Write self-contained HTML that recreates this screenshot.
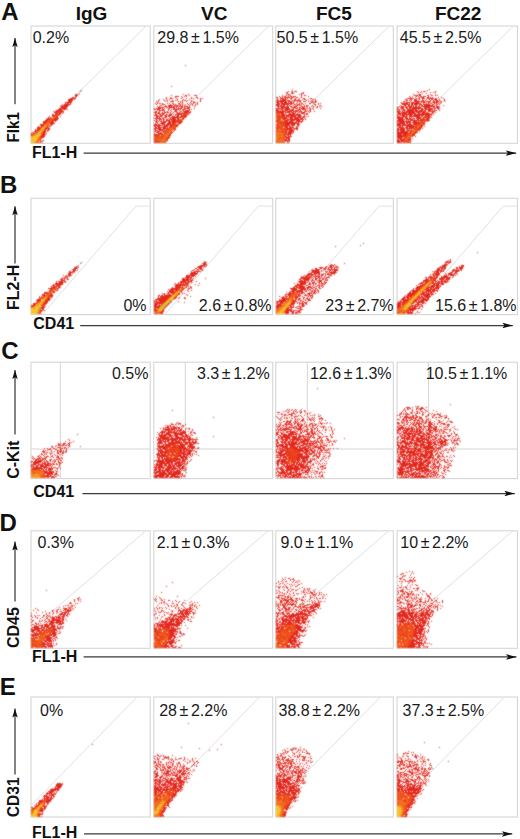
<!DOCTYPE html><html><head><meta charset="utf-8"><style>html,body{margin:0;padding:0;background:#fff;width:520px;height:839px;overflow:hidden}</style></head><body><svg xmlns="http://www.w3.org/2000/svg" width="520" height="839" viewBox="0 0 520 839" style="position:absolute;left:0;top:0">
<defs><marker id="ah" viewBox="0 0 10.5 5.6" refX="10.5" refY="2.8" markerWidth="10.5" markerHeight="5.6" markerUnits="userSpaceOnUse" orient="auto"><path d="M0,0 L10.5,2.8 L0,5.6 L2.2,2.8 z" fill="#111"/></marker><marker id="av" viewBox="0 0 9 5.4" refX="9" refY="2.7" markerWidth="9" markerHeight="5.4" markerUnits="userSpaceOnUse" orient="auto"><path d="M0,0 L9,2.7 L0,5.4 L1.8,2.7 z" fill="#111"/></marker></defs>
<text x="1.3" y="20.2" style="font-family:'Liberation Sans',sans-serif;font-weight:bold;font-size:24px" fill="#111">A</text>
<text x="0" y="192.5" style="font-family:'Liberation Sans',sans-serif;font-weight:bold;font-size:24px" fill="#111">B</text>
<text x="1.3" y="358.8" style="font-family:'Liberation Sans',sans-serif;font-weight:bold;font-size:24px" fill="#111">C</text>
<text x="-0.5" y="531.3" style="font-family:'Liberation Sans',sans-serif;font-weight:bold;font-size:24px" fill="#111">D</text>
<text x="-0.3" y="695.3" style="font-family:'Liberation Sans',sans-serif;font-weight:bold;font-size:24px" fill="#111">E</text>
<text x="91.5" y="20.3" text-anchor="middle" style="font-family:'Liberation Sans',sans-serif;font-weight:bold;font-size:19px" fill="#111">IgG</text>
<text x="214.2" y="20.3" text-anchor="middle" style="font-family:'Liberation Sans',sans-serif;font-weight:bold;font-size:19px" fill="#111">VC</text>
<text x="333.9" y="20.3" text-anchor="middle" style="font-family:'Liberation Sans',sans-serif;font-weight:bold;font-size:19px" fill="#111">FC5</text>
<text x="458.2" y="20.3" text-anchor="middle" style="font-family:'Liberation Sans',sans-serif;font-weight:bold;font-size:19px" fill="#111">FC22</text>
<rect x="31.0" y="26.0" width="119.2" height="117.3" fill="none" stroke="#d6d6d6" stroke-width="1.1"/>
<rect x="153.8" y="26.0" width="118.9" height="117.3" fill="none" stroke="#d6d6d6" stroke-width="1.1"/>
<rect x="275.8" y="26.0" width="117.5" height="117.3" fill="none" stroke="#d6d6d6" stroke-width="1.1"/>
<rect x="397.1" y="26.0" width="120.4" height="117.3" fill="none" stroke="#d6d6d6" stroke-width="1.1"/>
<rect x="31.0" y="198.3" width="119.2" height="116.3" fill="none" stroke="#d6d6d6" stroke-width="1.1"/>
<rect x="153.8" y="198.3" width="118.9" height="116.3" fill="none" stroke="#d6d6d6" stroke-width="1.1"/>
<rect x="275.8" y="198.3" width="117.5" height="116.3" fill="none" stroke="#d6d6d6" stroke-width="1.1"/>
<rect x="397.1" y="198.3" width="120.4" height="116.3" fill="none" stroke="#d6d6d6" stroke-width="1.1"/>
<rect x="31.0" y="362.2" width="119.2" height="116.4" fill="none" stroke="#d6d6d6" stroke-width="1.1"/>
<rect x="153.8" y="362.2" width="118.9" height="116.4" fill="none" stroke="#d6d6d6" stroke-width="1.1"/>
<rect x="275.8" y="362.2" width="117.5" height="116.4" fill="none" stroke="#d6d6d6" stroke-width="1.1"/>
<rect x="397.1" y="362.2" width="120.4" height="116.4" fill="none" stroke="#d6d6d6" stroke-width="1.1"/>
<rect x="31.0" y="530.8" width="119.2" height="117.5" fill="none" stroke="#d6d6d6" stroke-width="1.1"/>
<rect x="153.8" y="530.8" width="118.9" height="117.5" fill="none" stroke="#d6d6d6" stroke-width="1.1"/>
<rect x="275.8" y="530.8" width="117.5" height="117.5" fill="none" stroke="#d6d6d6" stroke-width="1.1"/>
<rect x="397.1" y="530.8" width="120.4" height="117.5" fill="none" stroke="#d6d6d6" stroke-width="1.1"/>
<rect x="31.0" y="697.0" width="119.2" height="120.0" fill="none" stroke="#d6d6d6" stroke-width="1.1"/>
<rect x="153.8" y="697.0" width="118.9" height="120.0" fill="none" stroke="#d6d6d6" stroke-width="1.1"/>
<rect x="275.8" y="697.0" width="117.5" height="120.0" fill="none" stroke="#d6d6d6" stroke-width="1.1"/>
<rect x="397.1" y="697.0" width="120.4" height="120.0" fill="none" stroke="#d6d6d6" stroke-width="1.1"/>
<polyline points="31.0,138.9 146.2,26.0" fill="none" stroke="#e0e0e0" stroke-width="1"/>
<polyline points="153.8,138.6 268.7,26.0" fill="none" stroke="#e0e0e0" stroke-width="1"/>
<polyline points="275.8,137.3 389.3,26.0" fill="none" stroke="#e0e0e0" stroke-width="1"/>
<polyline points="397.1,140.1 513.5,26.0" fill="none" stroke="#e0e0e0" stroke-width="1"/>
<polyline points="42.3,314.6 135.9,206.1 150.2,206.1" fill="none" stroke="#e0e0e0" stroke-width="1"/>
<polyline points="164.8,314.6 258.4,206.1 272.7,206.1" fill="none" stroke="#e0e0e0" stroke-width="1"/>
<polyline points="285.4,314.6 379.0,206.1 393.3,206.1" fill="none" stroke="#e0e0e0" stroke-width="1"/>
<polyline points="409.6,314.6 503.2,206.1 517.5,206.1" fill="none" stroke="#e0e0e0" stroke-width="1"/>
<polyline points="31.0,629.7 145.7,530.8" fill="none" stroke="#e0e0e0" stroke-width="1"/>
<polyline points="153.8,629.4 268.2,530.8" fill="none" stroke="#e0e0e0" stroke-width="1"/>
<polyline points="275.8,628.2 388.8,530.8" fill="none" stroke="#e0e0e0" stroke-width="1"/>
<polyline points="397.1,630.7 513.0,530.8" fill="none" stroke="#e0e0e0" stroke-width="1"/>
<polyline points="31.0,805.4 137.2,697.0" fill="none" stroke="#e0e0e0" stroke-width="1"/>
<polyline points="153.8,805.1 259.7,697.0" fill="none" stroke="#e0e0e0" stroke-width="1"/>
<polyline points="275.8,803.6 380.3,697.0" fill="none" stroke="#e0e0e0" stroke-width="1"/>
<polyline points="397.1,806.6 504.5,697.0" fill="none" stroke="#e0e0e0" stroke-width="1"/>
<line x1="60.3" y1="362.2" x2="60.3" y2="478.6" stroke="#d4d4d4" stroke-width="1"/>
<line x1="31.0" y1="449" x2="150.2" y2="449" stroke="#d4d4d4" stroke-width="1"/>
<line x1="185.3" y1="362.2" x2="185.3" y2="478.6" stroke="#d4d4d4" stroke-width="1"/>
<line x1="153.8" y1="449" x2="272.7" y2="449" stroke="#d4d4d4" stroke-width="1"/>
<line x1="307.3" y1="362.2" x2="307.3" y2="478.6" stroke="#d4d4d4" stroke-width="1"/>
<line x1="275.8" y1="449" x2="393.3" y2="449" stroke="#d4d4d4" stroke-width="1"/>
<line x1="428.6" y1="362.2" x2="428.6" y2="478.6" stroke="#d4d4d4" stroke-width="1"/>
<line x1="397.1" y1="449" x2="517.5" y2="449" stroke="#d4d4d4" stroke-width="1"/>
<defs>
<filter id="bl" color-interpolation-filters="sRGB" x="-5%" y="-5%" width="110%" height="110%"><feConvolveMatrix order="3" kernelMatrix="1 2 1 2 8 2 1 2 1" divisor="20" edgeMode="none" preserveAlpha="false"/></filter>
</defs>
<g filter="url(#bl)"><path d="M75 94.5h1m-8 5h1m-4 3h1m-4 2h1m-2 1h1m-2 1h1m6 3h1m-15 2h1m9 1h1m-15 4h1m10 0h1m-3 2h1m-2 1h1m-15 2h1m10 2h1m-15 1h1m8 4h1m-15 1h1m13 0h1m-4 4h1m-3 3h1m-2 4h1m-2 2h1" stroke="#d8261e" stroke-width="1" fill="none"/><path d="M76 94.5h1m-2 1h3m-3 1h2m-5 1h2m1 0h1m-6 1h6m-7 1h4m1 0h1m-7 1h5m-5 1h4m-6 1h6m-7 1h1m1 0h2m1 0h1m-7 1h7m-8 1h6m-8 1h7m-7 1h6m-8 1h8m-9 1h4m1 0h3m-10 1h7m-8 1h3m2 0h4m-10 1h3m3 0h2m-7 1h1m3 0h2m1 0h1m-11 1h2m1 0h1m3 0h2m-9 1h2m4 0h1m-7 1h1m4 0h1m-10 1h1m1 0h1m5 0h2m-11 1h3m5 0h3m-12 1h3m5 0h3m-12 1h3m6 0h3m-13 1h3m5 0h2m1 0h1m-13 1h3m4 0h4m-11 1h2m6 0h3m-13 1h3m6 0h3m-13 1h3m6 0h1m1 0h1m-14 1h1m2 0h1m7 0h2m-14 1h4m7 0h1m-12 1h3m6 0h3m-12 1h2m7 0h1m1 0h1m-14 1h3m6 0h2m1 0h2m-15 1h2m7 0h3m1 0h1m-16 1h2m1 0h1m8 0h2m-15 1h1m1 0h1m9 0h2m-14 1h2m9 0h4m-4 1h3m-4 1h3m-3 1h3m-3 1h1m-2 2h1m1 0h1m-2 1h1m-2 1h1" stroke="#e4281d" stroke-width="1" fill="none"/><path d="M58 111.5h2m-3 1h3m-4 1h2m-2 1h3m-5 1h4m-5 1h2m1 0h1m-2 1h1m-6 1h3m1 0h1m-6 1h2m1 0h2m-6 1h1m1 0h4m-7 1h1m1 0h1m1 0h1m-6 1h1m-2 1h1m2 0h1m1 0h1m-8 2h1m3 0h2m-7 1h1m4 0h1m-7 1h1m4 0h2m-8 1h1m4 0h1m-7 1h1m5 0h1m-8 1h1m-3 1h1m5 1h2m-10 1h1m7 0h1m-12 2h1m9 0h1m-2 1h1m-1 1h1m-1 1h1m-1 1h1m-1 2h1m-3 1h1" stroke="#ec461e" stroke-width="1" fill="none"/><path d="M58 113.5h1m-4 3h1m-3 1h2m-2 1h1m-3 1h1m-3 1h1m-2 1h1m1 0h1m-4 1h3m-4 1h2m1 0h1m-6 1h5m-5 1h1m-2 1h1m2 0h1m-2 1h1m-2 1h1m-5 1h1m3 0h1m-6 1h1m-3 1h2m-3 1h2m3 0h1m-7 1h2m4 0h1m-9 1h2m6 0h1m-10 1h1m-2 1h1m7 1h1m-2 1h2m-2 1h2m-3 1h3m-4 1h3m-4 1h3m1 0h1" stroke="#f2701f" stroke-width="1" fill="none"/><path d="M45 125.5h2m-2 1h1m-4 1h3m-4 1h1m0 1h2m-4 1h4m-5 1h1m2 0h1m-4 1h1m-3 1h1m2 0h1m-6 1h2m-4 1h2m5 0h1m-9 1h1m2 0h1m2 0h2m-2 1h1m-2 1h1m-7 1h1m5 0h1m-2 1h1m-4 2h2" stroke="#f59a25" stroke-width="1" fill="none"/><path d="M44 126.5h1m-3 2h2m-3 1h1m-2 2h2m-4 1h1m1 0h1m-3 1h2m-3 1h2m1 0h1m-6 1h5m-7 1h2m1 0h2m-7 1h7m-7 1h6m-5 1h5m-6 1h5m-5 1h5m-5 1h2" stroke="#f4c62d" stroke-width="1" fill="none"/><path d="M39 134.5h1" stroke="#a9c63c" stroke-width="1" fill="none"/><rect x="73" y="97" width="1" height="1" fill="#b04848"/><rect x="75" y="95" width="1" height="1" fill="#b04848"/><rect x="78" y="94" width="1" height="1" fill="#b04848"/><rect x="80" y="91" width="1" height="1" fill="#b04848"/><rect x="81" y="90" width="1" height="1" fill="#b04848"/><rect x="79" y="93" width="1" height="1" fill="#b04848"/></g>
<g filter="url(#bl)"><path d="M183 94.5h1m4 0h1m-18 1h1m13 0h2m2 0h1m4 0h3m-22 1h3m8 0h1m-21 1h1m24 0h1m4 0h1m-31 1h1m24 0h1m8 0h1m1 0h1m-44 1h1m3 0h1m2 0h1m10 0h1m11 0h1m10 0h1m-43 1h1m5 0h1m10 0h1m6 0h1m1 0h2m5 0h1m8 0h1m-45 1h1m1 0h1m6 0h1m5 0h3m4 0h1m3 0h1m3 0h1m13 0h1m-19 1h1m10 0h3m1 0h1m-41 1h1m9 0h1m1 0h1m2 0h1m6 0h1m2 0h1m4 0h1m3 0h1m5 0h1m-42 1h1m5 0h2m24 0h1m3 0h1m2 0h1m-35 1h1m27 0h1m2 0h1m2 0h1m-39 1h1m36 0h1m-41 2h1m9 0h1m29 0h1m-13 13h1m-3 2h1" stroke="#d8261e" stroke-width="1" fill="none"/><path d="M178 96.5h1m2 0h1m2 0h1m-15 1h1m4 0h1m6 0h1m14 0h1m-28 1h3m3 0h1m4 0h1m4 0h1m6 0h1m3 0h1m-29 1h1m13 0h1m-17 1h1m4 0h1m4 0h1m9 0h1m-21 1h1m2 0h1m9 0h1m10 0h1m1 0h1m-37 1h1m22 0h1m9 0h1m-36 1h1m3 0h2m1 0h1m10 0h1m4 0h1m14 0h1m-30 1h1m5 0h1m2 0h1m1 0h1m3 0h2m1 0h1m2 0h1m4 0h1m6 0h1m-38 1h1m4 0h1m2 0h5m1 0h5m1 0h1m1 0h1m1 0h1m-26 1h1m4 0h3m1 0h4m1 0h2m1 0h2m1 0h4m1 0h4m1 0h1m-32 1h6m2 0h2m1 0h6m1 0h1m1 0h1m2 0h2m1 0h1m2 0h3m-34 1h5m1 0h1m5 0h2m3 0h2m1 0h1m1 0h4m2 0h6m-36 1h2m1 0h3m2 0h2m4 0h1m2 0h1m1 0h6m1 0h1m1 0h3m4 0h1m1 0h1m-35 1h1m1 0h6m3 0h1m1 0h1m4 0h2m2 0h1m3 0h1m1 0h5m-35 1h2m2 0h1m4 0h1m2 0h1m3 0h1m2 0h3m3 0h2m1 0h6m1 0h1m-37 1h3m1 0h2m2 0h1m1 0h5m1 0h1m2 0h1m2 0h2m1 0h1m2 0h1m1 0h7m-36 1h1m1 0h3m1 0h4m5 0h1m1 0h1m4 0h8m4 0h1m-35 1h2m2 0h2m1 0h2m2 0h2m1 0h3m1 0h1m1 0h7m1 0h1m3 0h2m-35 1h4m2 0h3m1 0h3m1 0h4m3 0h1m1 0h2m2 0h3m1 0h2m-31 1h6m3 0h2m1 0h2m2 0h3m1 0h3m1 0h2m3 0h2m-31 1h2m1 0h1m2 0h1m1 0h3m3 0h11m2 0h3m-32 1h7m1 0h2m4 0h1m1 0h1m1 0h4m1 0h2m4 0h1m-28 1h1m2 0h3m1 0h2m1 0h2m1 0h7m1 0h2m3 0h2m-30 1h1m1 0h2m1 0h1m1 0h1m1 0h1m2 0h4m1 0h6m4 0h1m-27 1h2m1 0h1m1 0h2m1 0h4m1 0h3m1 0h4m5 0h1m-26 1h2m3 0h5m2 0h7m4 0h3m-27 1h1m1 0h1m2 0h5m2 0h4m1 0h3m4 0h1m-26 1h3m1 0h2m2 0h3m1 0h8m3 0h2m-25 1h9m1 0h5m1 0h2m4 0h2m-24 1h2m1 0h3m3 0h5m1 0h2m1 0h1m2 0h1m1 0h1m-23 1h2m1 0h8m1 0h1m1 0h1m-16 1h7m2 0h5m7 0h1m-22 1h2m2 0h7m1 0h1m8 0h1m-21 1h3m1 0h4m1 0h1m9 0h1m-21 1h2m1 0h3m2 0h2m9 0h1m-18 1h3m1 0h1m10 0h2m-19 1h1m3 0h3m10 0h1m-18 1h3m3 0h1m2 0h1m6 0h1m-17 1h1m14 0h2m-2 1h1m-9 1h1m6 0h2m-3 1h2m-2 2h1" stroke="#e4281d" stroke-width="1" fill="none"/><path d="M185 113.5h3m-4 1h1m1 0h1m-3 1h1m-3 1h1m1 0h1m-4 1h1m0 1h1m-4 1h2m-4 1h4m-5 1h5m-6 1h4m-1 1h1m-5 1h3m-5 1h1m1 0h2m-5 1h1m1 0h1m2 0h1m-7 1h2m1 0h1m1 0h1m-8 1h1m5 0h1m-8 1h3m1 0h1m1 0h2m-10 1h2m1 0h1m-5 1h1m1 0h1m1 0h1m2 0h1m-11 1h1m1 0h3m1 0h1m-7 1h2m1 0h2m4 0h1m-14 1h3m1 0h2m-8 1h5m1 0h2m2 0h1m2 0h1m-15 1h5m1 0h4m-10 1h1m2 0h3m2 0h1m4 0h1m-14 1h1m1 0h3m2 0h1m4 0h1m-13 1h1m1 0h1m3 0h1m3 0h1m1 0h2m-14 1h4m1 0h1m-5 1h3m1 0h2m5 0h1m-13 1h6m2 0h1m1 0h1" stroke="#ec461e" stroke-width="1" fill="none"/><path d="M185 114.5h1m-3 2h1m-2 1h1m-2 2h1m-7 4h1m-3 2h1m0 1h1m-3 1h1m1 0h1m-6 1h5m-4 1h1m1 0h1m-6 1h1m1 0h4m-8 1h1m1 0h1m1 0h2m-5 1h1m1 0h1m1 0h1m-5 1h4m-6 1h6m-7 1h2m2 0h1m-9 1h1m4 0h5m-14 1h2m3 0h1m2 0h4m-12 1h1m3 0h2m1 0h4m-11 1h1m1 0h3m1 0h3m1 0h1m-8 1h1m1 0h7m-13 1h1m3 0h1m2 0h5m-6 1h1m2 0h1m1 0h1" stroke="#f2701f" stroke-width="1" fill="none"/><path d="M169 132.5h1m-4 3h1m-6 7h1" stroke="#f59a25" stroke-width="1" fill="none"/><rect x="185" y="65" width="1" height="1" fill="#b04848"/><rect x="171" y="86" width="1" height="1" fill="#b04848"/></g>
<g filter="url(#bl)"><path d="M292 89.5h1m-5 2h1m2 0h2m2 0h2m-11 1h2m4 0h1m0 1h1m-8 1h1m1 0h1m1 1h1m10 0h1m2 0h2m-27 1h1m11 0h1m2 0h1m13 0h1m-33 1h2m2 0h1m18 1h1m10 0h1m-9 1h1m1 0h2m2 0h1m3 0h2m1 0h1m-17 1h1m6 0h1m8 0h1m-13 1h1m4 0h1m1 0h1m5 0h1m-3 1h2m-6 1h1m2 0h1m6 0h1m-7 1h2m-4 1h1m2 0h1m4 0h1m-25 1h1m20 0h1m1 0h1m1 0h1m-9 1h1m2 0h2m2 1h1m-11 2h1m3 1h1m-7 5h1m-4 3h1m-9 10h1m-7 7h1m-3 4h1m-1 1h1m-2 1h1" stroke="#d8261e" stroke-width="1" fill="none"/><path d="M294 91.5h1m8 1h1m-17 1h1m3 0h2m8 0h3m-15 1h1m9 0h1m1 0h1m-20 1h1m3 0h1m1 0h1m-7 1h1m1 0h2m2 0h1m1 0h1m2 0h1m1 0h1m5 0h1m-20 1h1m1 0h6m1 0h3m2 0h2m3 0h1m-25 1h1m2 0h4m1 0h1m1 0h1m2 0h2m3 0h1m7 0h2m6 0h1m-35 1h1m2 0h1m1 0h5m4 0h1m2 0h2m2 0h1m-23 1h3m1 0h6m1 0h3m2 0h1m1 0h5m1 0h1m10 0h1m-35 1h10m1 0h4m1 0h2m2 0h1m1 0h2m3 0h2m6 0h2m1 0h1m-40 1h3m1 0h3m1 0h3m1 0h1m1 0h2m1 0h1m3 0h1m2 0h1m10 0h2m-36 1h3m1 0h13m2 0h1m2 0h1m1 0h2m2 0h1m3 0h1m8 0h1m-43 1h4m1 0h8m1 0h2m2 0h2m1 0h3m1 0h1m1 0h1m14 0h1m-43 1h3m1 0h2m1 0h2m2 0h1m1 0h1m3 0h1m2 0h2m1 0h2m3 0h1m1 0h2m-31 1h8m1 0h3m1 0h2m2 0h2m5 0h2m1 0h1m1 0h2m3 0h1m1 0h1m-36 1h1m2 0h8m2 0h5m1 0h1m1 0h2m1 0h3m4 0h1m-34 1h8m1 0h5m3 0h1m1 0h3m1 0h1m1 0h4m1 0h2m1 0h2m1 0h1m-37 1h2m1 0h1m1 0h2m1 0h6m1 0h3m4 0h3m1 0h4m4 0h1m2 0h1m-38 1h3m1 0h1m1 0h2m1 0h3m1 0h5m1 0h4m1 0h1m4 0h1m1 0h1m1 0h1m-34 1h10m1 0h5m1 0h5m1 0h3m2 0h3m1 0h1m1 0h1m-35 1h1m3 0h4m1 0h5m1 0h3m1 0h1m2 0h2m1 0h4m4 0h1m-31 1h1m1 0h3m1 0h1m3 0h2m1 0h4m1 0h1m3 0h4m1 0h2m-27 1h4m1 0h1m1 0h7m1 0h5m3 0h1m1 0h2m-26 1h19m3 0h1m-22 1h2m1 0h3m1 0h6m2 0h4m1 0h2m1 0h1m-24 1h4m1 0h5m1 0h7m1 0h3m-21 1h4m2 0h3m1 0h5m1 0h3m2 0h1m-22 1h2m1 0h17m-27 1h1m7 0h4m1 0h5m1 0h4m2 0h1m-19 1h1m1 0h2m1 0h4m3 0h7m-26 1h1m8 0h11m1 0h2m1 0h1m-18 1h15m-14 1h5m1 0h4m2 0h3m-15 1h5m1 0h4m2 0h2m-13 1h2m1 0h2m1 0h1m3 0h1m1 0h1m-14 1h3m1 0h5m2 0h2m-21 1h1m8 0h6m1 0h5m-14 1h1m2 0h6m1 0h1m1 0h1m-10 1h1m1 0h5m-8 1h1m1 0h6m-8 1h6m1 0h1m-8 1h1m1 0h5m-7 1h5m-4 1h2m1 0h1m-5 1h1m1 0h3m-6 1h5m-4 1h4m-5 1h2m1 0h2m-6 1h5m-4 1h1m1 0h1m-4 1h1m2 0h1" stroke="#e4281d" stroke-width="1" fill="none"/><path d="M277 112.5h3m-4 1h2m2 0h1m-3 1h2m-3 1h5m-6 1h7m-6 1h6m-6 1h4m1 0h2m-6 1h3m1 0h2m-8 1h1m1 0h2m4 0h1m-9 1h3m1 0h1m1 0h2m1 0h1m-7 1h7m-9 1h7m-8 1h3m1 0h4m-7 1h2m3 0h3m-8 1h7m1 0h1m-10 1h5m1 0h1m-7 1h1m1 0h1m1 0h5m-3 1h1m2 0h2m-11 1h2m3 0h2m1 0h3m-10 1h1m1 0h1m1 0h3m1 0h1m-4 1h4m-1 1h1m-2 1h2m-7 1h1m3 0h3m-2 1h2m-6 1h1m-2 1h1m2 0h3m-1 1h1m-9 2h1m1 1h1m4 0h1" stroke="#ec461e" stroke-width="1" fill="none"/><path d="M278 113.5h1m-3 1h2m-2 1h1m-1 2h1m-1 1h1m4 0h1m-6 1h2m2 1h3m-4 1h1m1 0h1m-6 1h1m1 0h1m0 2h1m4 0h1m-9 1h1m2 0h3m-6 1h1m7 0h1m-4 1h1m2 0h1m-6 1h1m5 0h1m-10 1h6m1 0h1m-6 1h3m2 0h1m-8 1h1m1 0h1m1 0h1m3 0h1m-9 1h6m-6 1h9m-9 1h8m-8 1h2m2 0h3m-7 1h5m1 0h2m-7 1h3m1 0h4m-9 1h3m1 0h2m-6 1h8m-8 1h8m-7 1h7m-8 1h2m1 0h4" stroke="#f2701f" stroke-width="1" fill="none"/><path d="M278 135.5h1m2 1h1m-6 1h1" stroke="#f59a25" stroke-width="1" fill="none"/></g>
<g filter="url(#bl)"><path d="M429 89.5h1m-3 1h1m-11 1h1m3 0h1m1 0h1m11 0h1m-18 1h1m1 0h1m9 0h1m2 0h1m1 0h1m-10 1h1m-14 1h1m0 1h2m3 0h1m17 0h1m-29 1h1m2 0h1m8 0h1m16 1h1m-32 1h1m35 0h1m-39 1h2m37 0h1m-1 1h1m-42 1h1m40 0h1m-41 1h1m38 3h1m-47 2h1m41 1h1m-2 1h1m0 1h1m-5 2h1m-5 5h1m-4 3h2m-6 6h1m-3 2h1m-4 3h1m-5 5h1" stroke="#d8261e" stroke-width="1" fill="none"/><path d="M424 91.5h2m-4 2h1m-5 1h3m9 0h1m4 0h1m-20 1h2m2 0h1m6 0h2m2 0h2m2 0h1m-20 1h1m1 0h1m1 0h1m2 0h3m2 0h1m-19 1h1m4 0h1m3 0h1m1 0h3m3 0h2m1 0h1m1 0h1m8 0h1m-34 1h6m2 0h1m1 0h2m2 0h3m2 0h7m1 0h2m-27 1h2m2 0h3m2 0h1m2 0h1m3 0h1m2 0h1m1 0h2m1 0h3m2 0h1m-34 1h2m1 0h1m1 0h1m2 0h3m1 0h1m3 0h2m1 0h1m4 0h1m2 0h1m1 0h3m1 0h1m-36 1h1m1 0h1m3 0h1m3 0h11m1 0h5m2 0h2m1 0h3m1 0h2m-41 1h1m4 0h4m1 0h3m1 0h4m2 0h1m1 0h3m2 0h2m2 0h6m1 0h1m1 0h1m-41 1h7m1 0h1m1 0h10m2 0h1m2 0h1m1 0h1m1 0h2m2 0h1m1 0h1m1 0h1m1 0h1m-39 1h8m1 0h2m1 0h4m1 0h3m1 0h7m2 0h2m2 0h2m1 0h1m-40 1h1m3 0h2m2 0h2m1 0h3m1 0h2m2 0h1m1 0h2m1 0h9m1 0h1m1 0h1m-38 1h1m1 0h3m1 0h2m1 0h4m1 0h1m1 0h2m1 0h2m1 0h14m1 0h4m-42 1h1m1 0h4m1 0h3m1 0h12m3 0h6m3 0h2m1 0h3m-42 1h1m3 0h3m2 0h2m1 0h2m1 0h11m1 0h3m1 0h5m1 0h2m1 0h2m-42 1h3m1 0h1m1 0h2m2 0h10m1 0h1m2 0h3m1 0h8m1 0h1m-38 1h1m1 0h1m2 0h4m1 0h7m1 0h3m1 0h4m1 0h2m2 0h3m1 0h1m1 0h3m-40 1h4m1 0h1m1 0h1m1 0h20m2 0h7m-38 1h3m2 0h13m1 0h5m1 0h3m1 0h2m4 0h2m-36 1h9m1 0h8m2 0h2m1 0h9m1 0h2m-36 1h4m1 0h11m1 0h18m1 0h1m-37 1h1m2 0h5m1 0h2m1 0h3m1 0h11m1 0h1m1 0h3m1 0h1m-35 1h3m2 0h5m2 0h11m2 0h1m1 0h2m3 0h2m-34 1h7m1 0h3m1 0h1m1 0h1m4 0h6m1 0h1m1 0h1m2 0h2m-33 1h6m2 0h3m1 0h2m1 0h3m1 0h5m1 0h1m5 0h2m-32 1h7m1 0h7m1 0h1m2 0h2m1 0h3m3 0h3m-32 1h7m2 0h1m1 0h1m1 0h12m4 0h2m-31 1h1m1 0h12m2 0h4m1 0h1m8 0h1m-31 1h1m1 0h6m1 0h5m1 0h8m-23 1h8m1 0h2m1 0h2m2 0h6m5 0h1m-28 1h4m1 0h4m1 0h5m1 0h4m6 0h2m-28 1h17m1 0h1m5 0h2m-26 1h1m1 0h2m1 0h1m3 0h9m6 0h2m-25 1h6m1 0h3m1 0h4m3 0h1m2 0h3m-25 1h2m1 0h5m1 0h6m7 0h2m-24 1h8m1 0h2m1 0h1m1 0h1m6 0h3m-24 1h2m1 0h5m2 0h3m7 0h2m-22 1h2m1 0h9m1 0h1m5 0h1m-20 1h11m1 0h1m5 0h3m-21 1h11m7 0h1m-19 1h5m1 0h5m5 0h2m-18 1h9m7 0h2m-18 1h7m1 0h1m6 0h1m-16 1h6m1 0h1m-7 1h4m1 0h1m6 0h1m1 0h1m-16 1h2m1 0h4m5 0h2m-14 1h6m6 0h2m-14 1h3m1 0h2m5 0h1m1 0h1m-14 1h5m1 0h1m4 0h3" stroke="#e4281d" stroke-width="1" fill="none"/><path d="M401 112.5h1m24 3h1m-1 1h3m-5 1h1m1 0h2m-5 1h2m1 0h2m-5 1h2m-3 1h4m-28 1h1m21 0h3m1 0h2m-6 1h5m-6 1h2m2 0h1m-6 1h2m1 0h2m-7 1h2m1 0h2m-6 1h2m3 0h1m-8 1h1m1 0h1m-4 1h5m1 0h1m-5 1h1m1 0h2m-8 1h3m3 0h1m-6 1h1m3 0h1m-6 1h2m2 0h1m-7 1h3m2 0h2m-6 1h1m1 0h2m-7 1h1m1 0h3m1 0h1m-9 1h1m1 0h2m3 0h1m-6 1h1m3 0h1m-7 1h2m1 0h3m-6 1h1m3 0h1m-6 1h6m-6 1h1m1 0h1m1 0h1m-4 1h1m2 0h1" stroke="#ec461e" stroke-width="1" fill="none"/><path d="M425 119.5h1m-3 2h1m-3 2h2m-6 1h1m2 0h1m-3 1h1m-2 1h3m-6 1h1m2 0h2m-2 1h1m-5 1h1m1 0h1m-3 1h3m-4 1h3m-3 1h2m-3 1h2m-5 1h1m1 0h1m-4 1h1m3 0h1m-4 1h3m-6 1h1m1 0h3m-4 1h1m-2 1h3m-4 2h1m1 0h1m-2 1h2" stroke="#f2701f" stroke-width="1" fill="none"/></g>
<g filter="url(#bl)"><path d="M76 266.5h2m-4 1h1m2 3h1m-4 2h1m-12 3h1m7 0h1m-3 1h1m-9 2h1m5 1h2m-13 2h1m8 0h1m-10 1h1m8 0h1m-11 1h1m-3 1h1m8 0h1m-11 1h1m-2 1h1m8 1h1m-13 1h2m7 2h1m-14 2h1m-3 2h1m-4 2h1m12 0h1m-14 1h1m-3 2h1m-2 1h1m12 0h1m-17 3h1m11 3h1m-2 4h1" stroke="#d8261e" stroke-width="1" fill="none"/><path d="M75 267.5h2m1 0h1m-5 1h4m-6 1h4m-3 1h3m-7 1h2m1 0h3m-6 1h4m-5 1h3m1 0h1m-5 1h3m-5 1h1m1 0h3m-6 1h3m-6 1h1m1 0h2m1 0h1m-5 1h2m1 0h2m-8 1h3m1 0h1m-4 1h4m-7 1h5m1 0h1m-6 1h5m-8 1h7m-8 1h3m1 0h3m-9 1h2m1 0h1m2 0h2m-8 1h2m4 0h1m-9 1h4m3 0h2m-10 1h3m4 0h2m-9 1h1m6 0h1m-9 1h2m4 0h2m-8 1h1m3 0h2m-10 1h3m5 0h2m-11 1h2m-3 1h2m6 0h2m-11 1h4m4 0h3m-12 1h1m8 0h2m-11 1h2m6 0h1m1 0h1m-13 1h2m7 0h3m-13 1h3m6 0h3m-13 1h3m6 0h3m-12 1h1m8 0h2m-12 1h1m7 0h4m-14 1h3m8 0h2m-14 1h3m8 0h2m-15 1h3m9 0h2m-3 1h2m-2 1h3m-4 1h3m-2 1h2m-3 1h2m-2 1h1m-2 1h1" stroke="#e4281d" stroke-width="1" fill="none"/><path d="M58 284.5h1m-2 1h2m-4 1h4m-6 2h4m-6 1h1m1 0h1m1 0h1m-4 1h1m-3 1h1m-3 1h1m3 0h1m-7 1h2m1 0h1m1 0h1m-5 1h1m2 0h1m-3 1h2m-7 1h2m3 0h2m-7 1h1m3 0h2m-8 1h2m4 0h1m-2 1h1m-7 1h1m4 0h1m-8 1h2m5 0h1m-9 1h2m4 1h2m-2 1h1m-10 1h1m7 0h1m-12 1h2m-2 1h1m8 2h1m-1 1h1m-1 1h1m-2 2h2" stroke="#ec461e" stroke-width="1" fill="none"/><path d="M55 287.5h2m-5 2h1m1 0h1m-4 1h1m1 0h1m-2 1h1m-4 1h3m-4 1h1m1 0h1m-5 1h1m1 0h2m-4 1h2m-3 1h1m1 0h1m-4 1h1m1 1h1m-2 1h1m-2 2h1m-2 1h1m-7 1h1m-1 1h1m3 0h2m-8 1h1m5 0h1m-9 1h1m6 1h2m-2 1h1m-2 2h1m-1 1h1m-2 1h2m-2 1h1" stroke="#f2701f" stroke-width="1" fill="none"/><path d="M51 291.5h1m-6 5h1m-2 1h2m-4 1h2m-3 1h1m1 0h1m-4 1h1m2 0h1m-5 1h1m1 0h2m-5 1h4m-4 1h1m2 0h1m-5 1h3m-5 1h2m-4 1h2m5 0h1m-10 1h3m-4 1h1m1 0h2m4 0h1m-2 1h2m-2 1h1m-2 1h2m-3 2h2" stroke="#f59a25" stroke-width="1" fill="none"/><path d="M45 298.5h1m-3 1h1m-2 1h2m-3 1h1m-4 2h1m1 0h2m-4 2h3m-5 1h2m1 0h2m-6 1h3m1 0h1m-8 1h1m2 0h3m-7 1h7m-7 1h7m-7 1h6m-6 1h7m-7 1h5" stroke="#f4c62d" stroke-width="1" fill="none"/><path d="M38 306.5h1m-1 1h1m-1 1h1" stroke="#a9c63c" stroke-width="1" fill="none"/><rect x="73" y="269" width="1" height="1" fill="#b04848"/><rect x="75" y="267" width="1" height="1" fill="#b04848"/><rect x="78" y="265" width="1" height="1" fill="#b04848"/><rect x="80" y="263" width="1" height="1" fill="#b04848"/><rect x="81" y="262" width="1" height="1" fill="#b04848"/></g>
<g filter="url(#bl)"><path d="M204 261.5h1m-3 2h1m3 1h1m-1 1h1m-8 1h1m5 0h1m-9 1h1m5 0h1m-9 1h1m5 1h2m-11 1h2m8 0h1m-12 1h1m7 0h2m-14 4h1m7 1h1m-14 2h2m9 0h1m11 0h1m-14 1h1m-1 1h1m3 1h1m-19 1h1m12 0h1m-17 1h1m23 0h1m-26 1h1m20 0h1m2 1h1m-11 1h1m1 0h1m-5 1h1m3 0h2m-4 1h2m1 0h1m-24 1h1m19 0h1m-2 1h1m3 0h1m-4 1h1m-8 1h1m-20 1h1m19 0h1m1 0h1m-22 1h1m15 0h1m6 0h1m-29 1h2m1 0h1m25 0h1m-30 1h1m31 0h1m-33 1h1m17 0h1m2 0h1m4 0h1m-10 1h1m2 0h1m5 0h2m-8 3h1m5 1h1m-22 9h1m-2 2h1" stroke="#d8261e" stroke-width="1" fill="none"/><path d="M204 262.5h3m-4 1h3m-3 1h3m-6 1h5m-7 1h1m1 0h3m1 0h1m-7 1h4m-6 1h1m2 0h3m-8 1h1m2 0h2m1 0h1m-5 1h1m1 0h1m-5 1h5m-8 1h5m1 0h1m-8 1h8m-8 1h7m-11 1h1m1 0h7m-9 1h4m1 0h3m-9 1h7m-8 1h1m1 0h3m1 0h2m-10 1h7m1 0h1m-9 1h7m1 0h2m-12 1h6m1 0h2m1 0h2m-12 1h7m-9 1h1m1 0h2m1 0h1m1 0h1m-10 1h9m3 0h1m-14 1h4m1 0h2m1 0h1m3 0h1m-13 1h4m1 0h1m5 0h1m-15 1h1m2 0h7m3 0h1m-15 1h7m1 0h1m4 0h1m-15 1h8m5 0h1m-15 1h5m1 0h2m5 0h1m-16 1h1m1 0h6m6 0h1m-14 1h6m-10 1h1m2 0h2m3 0h1m6 0h1m-16 1h1m1 0h1m1 0h3m7 0h1m-17 1h1m1 0h8m5 0h1m-18 1h10m6 0h1m-17 1h9m6 0h1m-19 1h11m6 0h1m-20 1h12m6 0h1m-20 1h1m1 0h1m1 0h8m-12 1h4m1 0h6m6 0h1m-18 1h1m1 0h7m7 0h1m-17 1h9m6 0h1m-16 1h4m1 0h1m8 0h1m-15 1h3m1 0h2m7 0h1m-14 1h6m6 0h1m-13 1h5m6 0h1m-11 1h1m1 0h1m6 0h1m-11 1h2m7 0h1m-10 1h2m7 0h1m-2 1h1m-2 1h2m-2 1h1" stroke="#e4281d" stroke-width="1" fill="none"/><path d="M189 279.5h1m-1 2h1m-3 1h1m1 0h1m-4 1h3m-4 1h3m-9 1h1m2 0h1m1 0h1m1 0h1m-8 1h1m2 0h1m1 0h1m-3 1h1m-5 1h1m4 0h1m-6 1h1m3 0h1m-6 1h1m-3 1h1m4 0h1m-7 1h1m-4 1h1m1 0h1m4 0h1m-9 3h1m-2 1h1m-3 2h1m-3 2h1m-3 1h1m4 1h1m-8 1h1m-2 1h1m-7 3h1m1 1h1m-1 1h1m5 0h1m-9 1h2m-1 1h1m4 0h1m-7 1h1m1 0h2m1 0h2" stroke="#ec461e" stroke-width="1" fill="none"/><path d="M188 282.5h1m-4 3h1m-3 2h1m-3 1h2m-4 1h3m-4 1h1m1 0h2m-6 1h2m-3 1h1m3 0h1m-6 1h1m-3 1h2m3 0h1m-2 1h1m-6 1h1m3 0h1m-2 1h1m-7 1h1m4 0h1m-8 2h1m4 0h1m-2 1h1m-7 1h1m-2 1h1m-2 1h1m4 0h1m-7 1h1m4 0h1m-7 1h1m4 0h1m-7 1h1m4 0h1m-7 1h1m-2 1h1m-1 1h1m-2 1h2m1 0h3m-6 1h4m-5 1h1" stroke="#f2701f" stroke-width="1" fill="none"/><path d="M179 290.5h1m-4 2h1m1 0h1m-4 1h2m-3 1h1m1 0h1m-5 1h1m2 0h1m-6 2h1m2 0h1m-5 1h1m-2 1h1m3 0h1m-6 1h1m-2 1h1m-2 1h1m3 0h1m-6 1h1m-2 1h1m-2 1h1m-3 2h1m-2 1h1m3 0h1m-6 1h1m3 0h1m-5 1h1m2 0h1m-4 1h1m-1 2h1" stroke="#f59a25" stroke-width="1" fill="none"/><path d="M178 291.5h2m-3 1h1m-1 1h1m-3 1h1m-3 1h2m-3 1h3m-4 1h2m-3 1h3m-3 1h2m-4 1h1m-2 1h1m1 0h1m-4 1h2m-3 1h1m1 0h1m-4 1h1m-2 1h1m-3 1h1m2 0h1m-4 1h1m1 0h1m-4 1h1m-2 1h1m1 0h1m-3 1h2" stroke="#f4c62d" stroke-width="1" fill="none"/><path d="M169 299.5h1m-1 1h2m-3 1h1m-1 1h1m-3 1h1m-2 1h2m-3 1h2m-4 1h2m-2 1h1m-2 1h2m-3 1h1" stroke="#a9c63c" stroke-width="1" fill="none"/></g>
<g filter="url(#bl)"><path d="M331 264.5h1m2 0h1m-6 1h5m1 0h1m-10 1h1m9 0h2m-19 1h2m1 0h1m2 0h1m2 0h1m1 0h3m3 0h1m-22 1h2m6 0h3m2 0h1m-17 1h1m11 0h2m1 0h2m2 0h1m-21 1h2m-4 1h1m16 0h2m1 0h1m-4 1h1m2 0h1m5 0h2m-3 1h1m-13 1h2m4 0h1m2 0h1m2 0h1m-31 1h1m12 0h1m1 0h1m1 0h2m2 0h1m-25 1h1m13 0h2m2 0h1m4 0h1m-6 1h1m1 0h1m-6 1h2m4 0h2m1 0h2m-28 1h1m12 0h1m6 0h1m2 0h1m-11 1h2m5 0h2m6 0h1m-17 1h1m5 0h1m-6 1h1m6 0h1m6 0h1m-33 1h1m14 0h2m2 0h1m5 0h1m5 0h1m-16 1h1m4 0h1m3 0h1m4 0h1m-18 1h1m9 0h1m1 0h1m-12 1h2m2 0h1m10 0h1m-18 1h3m13 0h1m-33 1h1m21 0h1m-4 1h2m2 0h1m-10 1h1m1 0h1m5 0h1m1 0h1m-3 1h1m2 0h1m2 0h1m-33 1h1m14 0h3m9 0h1m4 0h1m-12 1h1m1 0h1m2 1h1m-13 1h1m4 0h3m2 0h1m-32 1h1m23 1h1m3 0h1m4 0h1m-15 1h1m1 0h1m5 0h1m4 0h1m-13 1h1m0 1h1m8 0h2m-35 1h1m23 0h1m1 0h2m-7 1h1m1 0h1m6 0h1m-10 1h1m2 0h3m3 1h1m-14 2h1m4 0h2m-4 1h1m-4 3h1m2 0h1m-4 1h1m6 1h1m-9 1h1" stroke="#d8261e" stroke-width="1" fill="none"/><path d="M330 266.5h2m1 0h1m-13 1h1m4 0h1m2 0h1m4 0h2m2 0h1m-19 1h2m9 0h1m2 0h1m2 0h1m-23 1h5m9 0h2m1 0h6m-25 1h6m2 0h1m1 0h1m5 0h2m1 0h1m1 0h4m-26 1h8m1 0h1m3 0h1m5 0h1m1 0h3m-25 1h9m10 0h5m-27 1h4m2 0h6m3 0h1m1 0h1m1 0h2m1 0h4m-27 1h9m2 0h2m1 0h1m3 0h1m1 0h1m1 0h1m-24 1h4m1 0h2m2 0h1m13 0h3m-29 1h1m1 0h3m1 0h3m1 0h2m2 0h2m2 0h1m6 0h1m-28 1h4m1 0h5m1 0h1m2 0h1m2 0h1m5 0h1m1 0h4m-30 1h10m1 0h1m1 0h1m1 0h1m3 0h2m-21 1h1m2 0h7m5 0h2m6 0h1m1 0h1m1 0h1m-28 1h3m1 0h5m2 0h1m4 0h1m1 0h1m2 0h1m3 0h2m-29 1h8m2 0h1m5 0h1m4 0h3m2 0h1m-26 1h9m1 0h1m3 0h2m3 0h1m2 0h1m2 0h2m-29 1h1m2 0h6m6 0h1m2 0h2m4 0h3m-27 1h9m2 0h2m3 0h1m7 0h1m1 0h1m-29 1h8m3 0h1m6 0h1m4 0h1m2 0h2m-29 1h3m2 0h6m5 0h1m4 0h2m2 0h1m1 0h1m-29 1h2m2 0h8m4 0h3m1 0h2m3 0h2m-29 1h6m1 0h8m1 0h2m2 0h1m3 0h2m2 0h2m-30 1h6m3 0h6m1 0h1m7 0h1m1 0h1m-26 1h5m1 0h5m5 0h1m1 0h1m4 0h1m1 0h2m-29 1h4m4 0h5m2 0h2m4 0h1m2 0h1m-26 1h2m1 0h2m3 0h1m1 0h1m9 0h1m1 0h1m2 0h1m1 0h1m-29 1h4m7 0h4m1 0h1m3 0h1m1 0h2m1 0h3m-31 1h6m7 0h2m5 0h1m2 0h2m-25 1h1m2 0h1m1 0h1m5 0h1m1 0h2m4 0h1m4 0h1m1 0h2m-30 1h1m1 0h3m1 0h1m6 0h4m2 0h1m5 0h1m1 0h1m1 0h1m-32 1h4m1 0h1m8 0h3m6 0h1m6 0h1m-30 1h4m9 0h2m2 0h1m3 0h1m3 0h1m1 0h1m-31 1h1m1 0h6m8 0h2m1 0h1m4 0h1m1 0h1m1 0h3m-31 1h7m8 0h2m2 0h1m2 0h1m3 0h1m2 0h1m-32 1h8m8 0h4m10 0h1m-31 1h2m1 0h3m9 0h3m7 0h1m1 0h2m-30 1h2m1 0h3m10 0h3m4 0h1m3 0h1m1 0h2m-30 1h4m10 0h3m5 0h1m2 0h2m-28 1h5m9 0h2m1 0h1m7 0h4m-29 1h3m11 0h2m5 0h1m2 0h1m1 0h2m-28 1h2m12 0h4m1 0h1m4 0h2m-15 1h2m2 0h1m5 0h4m-14 1h5m8 0h3m-17 1h6m2 0h2m2 0h3m-15 1h3m1 0h3m4 0h3m-14 1h3m3 0h2m1 0h3m1 0h1m-15 1h4m2 0h1m1 0h1m1 0h2m1 0h1" stroke="#e4281d" stroke-width="1" fill="none"/><path d="M305 277.5h1m-9 9h1m-2 1h1m0 3h1m-4 1h1m1 0h2m-4 1h3m1 0h1m-7 1h2m3 0h1m-7 1h2m1 0h1m2 0h1m-9 1h1m3 0h1m1 0h1m-6 1h1m1 0h1m2 0h1m-8 1h1m1 0h1m1 0h1m-7 1h2m5 0h1m-7 1h2m4 0h1m-2 1h2m-9 1h2m5 0h1m-10 1h1m1 0h1m-4 1h1m8 0h1m-11 1h1m-1 1h2m6 0h1m-11 1h2m-3 1h1m9 0h2m-14 1h2m8 1h1m-11 1h1m8 0h1m-1 1h1m-1 1h1" stroke="#ec461e" stroke-width="1" fill="none"/><path d="M294 293.5h3m-4 1h1m1 0h2m-6 1h2m1 0h1m-4 1h1m1 0h2m-6 1h1m1 0h1m2 0h1m-7 1h5m-4 1h2m1 0h1m-6 1h2m2 0h1m-5 1h2m2 0h1m-6 1h1m4 0h1m-9 1h3m4 0h1m-8 1h1m6 0h1m-8 1h2m3 0h1m-8 1h3m4 0h1m-10 1h3m5 0h1m-10 1h3m5 0h1m-11 1h4m-3 1h2m-3 1h2m6 0h1m-9 1h1m7 0h1m-2 1h1" stroke="#f2701f" stroke-width="1" fill="none"/><path d="M293 297.5h1m-3 2h1m-3 1h2m-1 1h1m-4 1h2m1 0h1m-5 1h2m-4 1h2m1 0h1m1 0h1m-5 1h1m-2 1h1m2 0h1m-6 1h2m1 0h2m-6 1h2m2 0h1m-6 1h3m2 0h1m-7 1h2m3 0h1m-7 1h2m3 0h1m-7 1h1m1 0h1m3 0h1m-8 1h1m1 0h1" stroke="#f59a25" stroke-width="1" fill="none"/><path d="M289 301.5h1m-1 1h1m-2 1h2m-4 1h1m1 0h1m-3 1h2m-3 1h2m-3 1h1m-2 1h2m-2 1h2m-4 1h3m-4 1h3m-5 1h1m1 0h3m-6 1h1m1 0h4" stroke="#f4c62d" stroke-width="1" fill="none"/><rect x="335" y="246" width="1" height="1" fill="#b04848"/><rect x="360" y="245" width="1" height="1" fill="#b04848"/><rect x="363" y="243" width="1" height="1" fill="#b04848"/><rect x="344" y="263" width="1" height="1" fill="#b04848"/></g>
<g filter="url(#bl)"><path d="M448 260.5h1m-3 1h2m-3 1h1m15 3h3m-24 1h1m18 0h1m2 0h2m-8 1h2m4 1h1m-26 1h1m6 0h1m8 0h2m-3 1h2m7 0h1m-30 1h1m1 0h1m8 0h1m1 2h1m11 1h1m-3 1h1m-15 1h1m11 0h1m-29 1h2m14 0h1m10 0h1m-4 2h1m-15 1h1m10 1h3m-30 2h1m23 1h1m-28 1h1m-4 3h1m24 1h1m-28 1h1m25 0h1m-28 1h1m26 0h1m-29 1h1m-2 1h1m26 0h1m-29 1h1m25 0h1m-30 2h1m-2 1h1m-2 1h1m25 1h1m-31 2h1m27 0h1m-3 1h1m0 1h1m-14 3h1m7 0h1m1 0h1m-11 1h1m6 0h1m2 0h1m-12 1h2m6 0h1m-9 1h1m9 0h1m-13 3h1m7 0h1m1 0h1m-12 1h1m3 0h1m2 0h1" stroke="#d8261e" stroke-width="1" fill="none"/><path d="M450 259.5h1m-1 1h1m-2 1h2m-5 1h5m-6 1h1m2 0h1m-5 1h4m-6 1h5m-5 1h4m15 0h1m-23 1h7m13 0h4m-26 1h3m1 0h2m1 0h2m10 0h2m1 0h3m-24 1h2m1 0h1m1 0h1m12 0h1m1 0h1m1 0h2m-26 1h6m1 0h1m10 0h6m-25 1h4m1 0h3m9 0h2m1 0h4m-25 1h1m1 0h3m1 0h1m9 0h3m2 0h2m-24 1h7m8 0h4m2 0h3m-27 1h1m1 0h2m1 0h1m1 0h3m6 0h1m1 0h7m-22 1h2m2 0h2m5 0h3m1 0h1m1 0h4m-25 1h3m5 0h1m5 0h5m-20 1h4m4 0h2m4 0h9m-25 1h1m1 0h1m1 0h1m4 0h2m2 0h6m1 0h4m-25 1h4m5 0h2m3 0h5m1 0h4m-26 1h6m4 0h2m2 0h1m3 0h2m1 0h2m1 0h1m-25 1h5m5 0h1m1 0h2m1 0h8m-25 1h3m1 0h1m7 0h1m1 0h1m1 0h3m1 0h2m1 0h3m-27 1h3m1 0h2m6 0h12m-26 1h1m1 0h1m1 0h2m9 0h2m1 0h3m2 0h2m-23 1h3m6 0h1m1 0h10m-24 1h5m6 0h1m1 0h5m1 0h3m1 0h1m-25 1h5m6 0h7m1 0h5m-25 1h5m7 0h2m1 0h2m1 0h6m-26 1h1m2 0h2m7 0h10m1 0h1m-25 1h6m8 0h5m1 0h5m-25 1h5m8 0h10m-25 1h1m1 0h4m7 0h4m1 0h1m1 0h2m1 0h1m-25 1h5m8 0h3m1 0h7m-25 1h6m6 0h10m1 0h2m-28 1h1m1 0h5m9 0h1m1 0h7m1 0h1m-26 1h5m8 0h1m1 0h2m1 0h7m-27 1h5m1 0h1m7 0h6m1 0h5m-27 1h2m2 0h3m7 0h1m1 0h2m1 0h4m1 0h2m-28 1h7m8 0h4m1 0h7m-28 1h1m1 0h6m7 0h2m1 0h1m1 0h8m-28 1h2m1 0h3m8 0h3m1 0h6m-26 1h5m1 0h1m8 0h2m1 0h8m-27 1h4m1 0h3m7 0h2m3 0h2m3 0h2m-27 1h4m1 0h1m12 0h7m-25 1h4m10 0h5m1 0h2m2 0h2m-26 1h4m10 0h1m2 0h4m1 0h1m-23 1h2m11 0h1m2 0h3m-7 1h2m2 0h6m-10 1h2m1 0h4m-7 1h5m-6 1h1m1 0h1m1 0h1m4 0h1m-11 1h2m1 0h3m-6 1h1m1 0h3" stroke="#e4281d" stroke-width="1" fill="none"/><path d="M442 269.5h1m-7 5h1m-2 1h2m-4 1h2m1 0h1m-5 1h4m-5 1h3m-4 1h2m1 0h1m-5 1h1m1 0h1m0 1h1m-7 1h2m4 0h1m-2 1h1m-8 1h1m5 0h1m-8 1h2m-3 1h1m-3 2h1m5 0h1m-9 1h2m-2 1h1m5 0h1m-8 1h1m5 0h1m-7 1h1m4 0h1m-9 1h2m-2 1h1m-3 1h2m5 0h1m-9 1h1m6 0h1m-8 1h1m5 0h1m-10 2h1m6 0h1m-2 1h1m-9 1h2m-5 1h1m1 0h2m-6 2h1m1 0h1m7 0h1m-10 1h1m-1 1h1m7 0h1m-12 1h2m8 0h1m-13 1h2m9 0h1m-12 2h1m1 0h1m1 0h1m4 0h3m-9 1h1m6 0h1m-11 1h2m5 0h1m-8 1h1m5 0h1" stroke="#ec461e" stroke-width="1" fill="none"/><path d="M434 278.5h1m-3 1h1m-3 1h1m1 0h1m-5 1h2m1 0h1m-1 1h1m-6 1h1m3 0h1m-6 1h1m-3 2h1m-3 1h2m3 0h1m-6 1h1m-2 1h1m3 0h1m-6 1h1m2 1h1m-7 1h1m-1 1h1m4 0h1m-8 2h1m-3 1h1m4 0h1m-6 1h1m-3 1h2m4 0h1m-8 1h2m-3 1h2m3 0h1m-6 1h1m4 0h1m-7 1h1m4 0h1m-8 1h2m4 0h1m-8 1h1m-2 1h2m-4 1h1m1 0h1m5 0h1m-9 1h1m1 0h1m-5 1h3m-5 1h3m1 0h2m4 0h2m-11 1h1m1 0h1m1 0h4m-9 1h3m1 0h6m-8 1h5m1 0h2m-9 1h3m1 0h1m1 0h2" stroke="#f2701f" stroke-width="1" fill="none"/><path d="M430 281.5h1m-3 1h3m-4 1h3m-4 1h4m-5 1h1m1 0h2m-5 1h4m-5 1h1m1 0h1m-4 1h4m-3 1h1m-4 1h4m-6 1h3m-1 1h2m-4 1h1m1 0h1m-6 1h3m1 0h1m-5 1h1m2 0h1m-6 1h2m-2 1h1m2 0h1m-4 1h3m-5 1h1m2 0h1m-4 1h1m-3 1h1m2 0h1m-5 1h1m1 0h2m-5 1h1m-3 1h2m3 0h1m-6 1h1m3 0h1m-6 1h2m2 0h1m-7 1h1m1 0h1m1 0h3m-7 1h2m2 0h2m-8 1h1m2 0h2m1 0h1m-6 4h1" stroke="#f59a25" stroke-width="1" fill="none"/><path d="M426 285.5h1m-3 2h1m-4 2h2m-2 2h1m-4 1h2m-3 1h1m1 0h1m-2 1h1m-3 1h2m-3 1h2m-3 1h2m-4 1h1m-1 1h2m-4 1h1m1 0h1m-3 1h2m-3 1h1m-2 1h3m-4 1h3m-4 1h3m-3 1h2m-3 1h1m-2 1h2m-1 1h1" stroke="#f4c62d" stroke-width="1" fill="none"/><rect x="477" y="252" width="1" height="1" fill="#b04848"/></g>
<g filter="url(#bl)"><path d="M68 439.5h1m0 1h1m-5 1h1m7 0h1m-5 1h1m-12 1h1m1 0h1m3 0h2m2 0h1m-10 1h1m3 0h1m5 0h1m-14 1h1m2 0h1m5 0h1m2 0h1m-18 1h2m2 0h1m-4 1h1m11 0h1m-21 1h1m2 0h1m6 0h1m7 0h1m1 0h1m-10 1h2m9 0h1m-24 1h1m3 0h1m9 0h1m2 0h1m2 0h1m-22 1h3m9 0h1m2 0h1m2 0h2m1 0h1m1 0h1m-22 1h1m7 0h1m5 0h1m1 0h1m1 0h1m2 0h1m-25 1h1m15 0h1m4 0h1m-21 1h1m3 0h1m12 0h1m1 0h1m-30 2h1m5 0h1m1 0h1m5 0h3m8 0h2m-26 1h1m5 0h1m5 0h1m10 0h1m1 0h1m-20 1h1m18 0h1m-5 1h1m1 0h2m1 0h1m-11 1h1m11 0h1m-12 1h1m1 0h1m1 0h2m2 0h1m-5 1h1m4 0h1m2 0h1m-10 1h1m5 0h1m-7 1h1m3 0h1m1 1h1m-1 1h1m0 2h1m-6 2h1m0 1h2m-2 1h1m-2 1h1m1 1h1m0 1h1m-4 1h1m-2 1h1" stroke="#d8261e" stroke-width="1" fill="none"/><path d="M71 442.5h1m-9 1h1m5 0h1m-12 1h1m3 0h1m1 0h1m2 0h1m-10 1h1m1 0h2m1 0h1m2 0h1m2 0h1m-8 1h1m6 0h1m-13 1h4m4 0h1m2 0h1m-19 1h1m2 0h1m6 0h2m4 0h1m-19 1h3m9 0h1m-16 1h1m5 0h1m6 0h1m2 0h1m4 0h1m-16 1h1m7 0h1m6 0h1m-24 1h1m2 0h2m1 0h1m7 0h1m5 0h1m-19 1h1m4 0h2m6 0h1m4 0h1m-23 1h1m2 0h1m5 0h1m3 0h1m-16 1h1m3 0h1m8 0h1m2 0h1m1 0h1m4 0h1m-26 1h1m6 0h1m6 0h2m-12 1h1m4 0h1m3 0h1m2 0h1m3 0h1m3 0h1m-30 1h1m1 0h1m2 0h2m1 0h1m1 0h4m13 0h1m1 0h2m-30 1h1m1 0h4m1 0h1m1 0h2m1 0h1m4 0h2m-17 1h2m1 0h5m1 0h1m1 0h1m3 0h1m2 0h1m1 0h1m2 0h1m1 0h1m-30 1h2m1 0h8m2 0h1m1 0h2m-17 1h1m1 0h8m1 0h1m1 0h2m1 0h2m9 0h1m2 0h1m-29 1h6m3 0h4m1 0h4m1 0h1m3 0h1m3 0h1m-30 1h5m2 0h5m1 0h5m1 0h2m2 0h1m1 0h1m2 0h1m-29 1h1m1 0h1m1 0h4m1 0h4m1 0h6m1 0h1m-22 1h3m2 0h2m2 0h7m1 0h1m2 0h1m-21 1h1m1 0h9m1 0h5m1 0h1m1 0h1m1 0h3m2 0h1m-27 1h11m1 0h1m1 0h1m1 0h5m3 0h2m-27 1h2m2 0h1m5 0h3m1 0h2m1 0h5m4 0h1m-15 1h2m1 0h1m1 0h3m-7 1h4m1 0h5m-9 1h9m-8 1h7m3 0h1m-10 1h6m1 0h3m-12 1h4m1 0h1m3 0h1m-9 1h8m2 0h1m-12 1h1m1 0h2m2 0h3" stroke="#e4281d" stroke-width="1" fill="none"/><path d="M33 469.5h2m1 0h4m-9 1h1m3 0h1m3 0h3m0 1h2m-11 1h1m10 0h1m-11 1h1m9 0h2m-3 1h1m-2 1h2m-2 1h4m-5 1h1" stroke="#ec461e" stroke-width="1" fill="none"/><path d="M32 470.5h3m1 0h3m-8 1h11m-11 1h2m1 0h8m1 0h1m-13 1h3m1 0h9m-13 1h1m2 0h1m3 0h1m1 0h3m1 0h1m-13 1h1m6 0h3m2 0h1m-9 1h1m3 0h2m-2 1h1m1 0h3" stroke="#f2701f" stroke-width="1" fill="none"/><path d="M42 472.5h1m-11 2h2m2 0h2m1 0h1m-9 1h1m1 0h6m-8 1h5m1 0h3m-9 1h9" stroke="#f59a25" stroke-width="1" fill="none"/><path d="M35 474.5h1" stroke="#f4c62d" stroke-width="1" fill="none"/><rect x="77" y="434" width="1" height="1" fill="#b04848"/><rect x="80" y="446" width="1" height="1" fill="#b04848"/></g>
<g filter="url(#bl)"><path d="M177 422.5h1m-7 1h1m4 0h1m1 0h3m-6 1h1m2 0h1m1 0h1m4 0h1m-21 1h1m10 0h1m5 0h1m-20 2h1m-4 1h1m25 0h1m2 0h1m-1 1h1m2 0h1m-1 1h1m-2 1h1m-35 1h1m32 0h1m2 0h2m-5 1h1m3 0h2m-38 1h1m33 1h1m-37 2h1m39 0h1m-40 2h1m35 0h1m1 0h1m1 0h1m-4 3h2m-3 1h1m1 0h1m1 0h1m-4 3h1m-2 1h2m0 1h1m1 0h2m-5 2h1m-2 1h1m1 0h1m-4 2h1m3 1h1m-5 1h1m5 0h1m-8 1h1m-1 3h1m-37 1h1m34 0h1m-37 1h1m31 2h1m-3 1h1m1 0h1m-3 2h1m-2 1h1m-2 1h4m0 1h1m-2 1h1m0 2h1m-6 2h1m2 1h1m-4 1h1m2 0h1" stroke="#d8261e" stroke-width="1" fill="none"/><path d="M171 424.5h3m-7 1h1m1 0h2m12 0h1m-17 1h2m1 0h1m1 0h3m6 0h1m1 0h1m-19 1h4m1 0h2m1 0h7m2 0h1m-20 1h1m1 0h1m1 0h3m1 0h6m1 0h2m1 0h1m6 0h1m-26 1h12m1 0h1m1 0h1m1 0h2m3 0h1m-24 1h1m2 0h5m1 0h2m1 0h2m1 0h5m1 0h1m-23 1h5m2 0h4m1 0h2m1 0h2m1 0h2m1 0h4m2 0h1m-29 1h5m1 0h11m1 0h1m1 0h6m5 0h1m-33 1h1m1 0h2m1 0h1m1 0h4m1 0h1m1 0h13m-27 1h1m1 0h2m1 0h7m3 0h9m2 0h2m1 0h1m2 0h1m-33 1h8m1 0h5m1 0h4m2 0h4m1 0h3m2 0h1m-32 1h7m1 0h1m1 0h3m1 0h1m1 0h4m3 0h8m-32 1h1m1 0h10m1 0h2m2 0h8m1 0h1m1 0h2m1 0h2m-33 1h11m1 0h5m1 0h7m1 0h2m1 0h4m1 0h1m-35 1h3m1 0h16m1 0h14m1 0h1m1 0h1m-40 1h1m1 0h5m1 0h1m1 0h3m1 0h6m1 0h3m1 0h4m2 0h3m1 0h1m2 0h1m-38 1h4m1 0h6m2 0h3m1 0h5m1 0h1m1 0h2m1 0h1m1 0h2m2 0h2m1 0h2m-39 1h5m1 0h2m2 0h14m1 0h11m2 0h1m-40 1h6m2 0h1m2 0h9m1 0h5m2 0h3m1 0h3m2 0h1m3 0h1m-42 1h1m1 0h1m3 0h7m2 0h2m1 0h1m1 0h1m2 0h8m1 0h5m-36 1h2m1 0h3m1 0h6m7 0h7m3 0h5m-36 1h10m2 0h2m2 0h2m3 0h7m2 0h7m-36 1h8m1 0h1m3 0h2m1 0h2m3 0h7m1 0h1m1 0h4m5 0h1m-42 1h1m1 0h2m1 0h4m7 0h1m5 0h8m1 0h2m1 0h3m-37 1h2m1 0h2m1 0h3m3 0h1m10 0h2m1 0h6m1 0h1m1 0h1m-35 1h5m2 0h1m5 0h1m2 0h1m4 0h6m1 0h7m-35 1h10m6 0h1m5 0h2m1 0h4m1 0h4m4 0h1m-39 1h1m1 0h7m4 0h1m2 0h1m5 0h5m1 0h5m5 0h1m-40 1h6m1 0h2m12 0h8m1 0h4m3 0h1m-39 1h4m1 0h5m7 0h1m5 0h2m1 0h9m1 0h1m-36 1h10m6 0h2m3 0h4m1 0h2m1 0h2m2 0h1m-34 1h1m1 0h8m9 0h11m1 0h1m-32 1h3m1 0h2m1 0h1m1 0h1m10 0h1m2 0h8m1 0h1m-32 1h2m1 0h2m1 0h4m3 0h2m1 0h6m1 0h3m1 0h2m-29 1h2m2 0h8m2 0h1m2 0h6m1 0h6m-32 1h8m1 0h6m2 0h5m1 0h2m1 0h3m-28 1h19m1 0h3m1 0h5m1 0h1m1 0h1m-33 1h8m1 0h7m2 0h8m1 0h1m2 0h1m-32 1h2m1 0h11m1 0h2m1 0h7m1 0h3m2 0h1m-34 1h1m1 0h7m1 0h3m1 0h5m1 0h3m1 0h5m-28 1h8m1 0h3m1 0h3m1 0h3m1 0h6m1 0h1m1 0h1m-32 1h1m1 0h1m1 0h5m1 0h1m1 0h9m1 0h5m1 0h2m-30 1h11m2 0h5m1 0h3m2 0h2m1 0h2m3 0h1m-32 1h2m1 0h3m1 0h2m1 0h13m1 0h3m-28 1h3m1 0h3m1 0h1m2 0h5m1 0h5m1 0h1m1 0h2m1 0h1m-29 1h3m1 0h14m1 0h1m2 0h4m1 0h1m1 0h2m-31 1h1m1 0h5m1 0h3m1 0h3m1 0h11m-27 1h12m1 0h5m1 0h8m-27 1h3m2 0h8m1 0h13m1 0h1m-28 1h1m1 0h23m2 0h1m-29 1h11m1 0h3m2 0h5m1 0h1m2 0h1m1 0h1m-29 1h4m1 0h5m1 0h4m1 0h10m3 0h1m-30 1h4m1 0h9m1 0h4m1 0h6m1 0h1" stroke="#e4281d" stroke-width="1" fill="none"/><path d="M175 438.5h1m1 5h1m-8 1h2m2 0h1m-4 1h7m-11 1h2m3 0h1m2 0h3m-12 1h1m1 0h3m2 0h1m2 0h3m-13 1h2m1 0h4m1 0h5m-13 1h3m1 0h10m-14 1h5m1 0h2m1 0h4m-11 1h6m1 0h1m1 0h3m-13 1h4m1 0h2m1 0h5m-14 1h4m1 0h3m1 0h3m-11 1h3m1 0h2m1 0h5m-12 1h6m2 0h3m-11 1h2m2 0h2m1 0h2m-9 1h5m1 0h3m-8 1h3m2 0h1m-4 1h2m1 0h2m-4 1h2m-15 16h1" stroke="#ec461e" stroke-width="1" fill="none"/><path d="M176 451.5h1m-7 3h1m-1 2h1m5 1h1" stroke="#f2701f" stroke-width="1" fill="none"/><rect x="172" y="410" width="1" height="1" fill="#b04848"/><rect x="213" y="417" width="1" height="1" fill="#b04848"/><rect x="213" y="436" width="1" height="1" fill="#b04848"/></g>
<g filter="url(#bl)"><path d="M287 409.5h1m1 0h1m2 0h1m2 0h1m5 0h1m-11 1h1m8 0h1m3 0h1m-20 1h1m3 0h1m14 0h1m-28 1h3m7 0h2m4 0h1m3 0h1m3 0h1m8 0h1m-30 1h1m10 0h1m7 0h1m6 0h1m-27 1h1m2 0h2m2 0h3m4 0h1m22 0h1m-35 1h1m7 0h1m5 0h1m5 0h1m7 0h1m7 0h1m-45 1h1m5 0h1m8 0h1m3 0h1m1 0h1m20 0h1m-42 1h1m11 0h1m22 0h1m1 0h1m6 0h1m-44 1h1m1 0h1m14 0h1m13 0h1m3 0h1m5 0h4m-44 1h1m15 0h1m6 0h1m4 0h1m1 0h2m1 0h1m9 0h1m-33 1h1m6 0h1m3 0h1m8 0h1m2 0h1m11 0h1m-42 1h1m17 0h1m16 0h1m-39 1h1m38 0h1m6 0h1m-18 1h3m1 0h1m11 0h1m3 0h1m-55 1h1m29 0h1m3 0h1m4 0h1m5 0h1m-13 1h1m2 0h2m1 0h1m-40 1h2m16 0h1m13 0h1m14 0h1m-12 1h1m8 0h1m1 0h1m4 0h1m2 0h1m-21 1h1m2 0h2m1 0h1m5 0h1m7 0h1m-48 1h1m27 0h1m1 0h1m10 0h2m7 0h1m-10 1h1m-12 1h1m1 0h1m1 0h1m13 0h1m-13 1h1m11 0h1m-11 2h1m7 0h1m1 0h1m-8 2h3m3 0h1m-1 1h2m-7 1h1m0 1h2m-1 1h1m1 0h1m5 0h1m-8 1h1m1 0h1m1 0h2m0 1h1m-12 1h1m7 0h1m-6 1h1m-2 1h1m-1 1h1m-3 2h1m5 0h1m2 0h1m-9 2h3m-2 2h2m1 0h1m-1 1h1m-7 1h1m6 0h1m-8 2h2m3 0h1m-7 1h1m5 1h1m-8 1h1m-2 1h1m-1 1h1m-6 1h1m0 1h1m5 0h1m3 0h1m-7 1h1m1 1h1m2 0h1m-9 1h1m2 0h3m-1 1h1m2 0h1m-9 1h2m4 0h3m-8 1h1m3 0h1m-14 1h1m4 0h1m0 1h2m-6 1h1m1 0h1m5 0h1m4 0h1m-11 1h1m2 0h1m1 0h1m2 1h1m-1 1h1m-14 1h1m5 0h1m3 0h1m2 0h1m-12 1h1m1 0h1m2 0h1m6 0h1" stroke="#d8261e" stroke-width="1" fill="none"/><path d="M286 410.5h1m1 0h1m5 0h1m1 0h1m-14 1h1m9 0h1m1 0h1m3 0h1m1 0h1m3 0h1m-10 1h1m3 0h1m-10 1h1m1 0h2m10 0h1m3 0h1m-32 1h1m3 0h1m8 0h1m15 0h1m6 0h1m-30 1h1m1 0h1m3 0h1m8 0h1m9 0h1m3 0h1m-21 1h1m1 0h1m4 0h1m5 0h1m11 0h1m-39 1h1m2 0h1m1 0h1m7 0h1m7 0h1m5 0h1m-25 1h1m1 0h2m3 0h2m5 0h1m4 0h1m7 0h1m-31 1h1m15 0h1m1 0h1m3 0h1m10 0h1m4 0h1m-40 1h1m6 0h1m3 0h1m3 0h1m6 0h2m7 0h1m9 0h1m-39 1h1m2 0h5m3 0h2m1 0h1m2 0h1m3 0h1m9 0h1m-36 1h1m6 0h2m1 0h2m2 0h1m1 0h2m1 0h1m6 0h1m-26 1h1m4 0h2m1 0h2m1 0h1m2 0h2m1 0h2m1 0h1m3 0h1m13 0h1m1 0h3m1 0h1m-47 1h1m1 0h1m3 0h8m2 0h1m2 0h3m1 0h2m1 0h1m4 0h1m2 0h1m3 0h1m-38 1h2m1 0h2m2 0h1m4 0h2m4 0h2m1 0h3m3 0h1m7 0h1m3 0h1m-41 1h2m3 0h1m1 0h2m2 0h1m1 0h1m3 0h2m1 0h4m2 0h3m3 0h1m1 0h1m4 0h1m2 0h1m1 0h1m1 0h1m5 0h1m-53 1h1m1 0h1m1 0h1m3 0h1m1 0h7m1 0h1m2 0h2m2 0h1m2 0h1m6 0h1m2 0h1m8 0h1m-49 1h1m2 0h2m1 0h6m4 0h1m1 0h8m4 0h1m2 0h1m-35 1h1m1 0h3m1 0h2m1 0h7m2 0h1m2 0h5m2 0h1m1 0h3m2 0h1m5 0h1m13 0h1m-56 1h1m1 0h1m1 0h3m1 0h2m4 0h1m4 0h1m2 0h1m1 0h1m1 0h1m1 0h1m1 0h1m4 0h2m4 0h1m1 0h1m2 0h1m6 0h1m2 0h1m-55 1h1m4 0h1m2 0h9m1 0h2m2 0h1m1 0h1m1 0h4m2 0h3m-37 1h3m1 0h2m1 0h1m2 0h2m2 0h6m4 0h2m1 0h1m3 0h1m1 0h1m1 0h2m1 0h1m4 0h1m5 0h1m-50 1h2m3 0h2m1 0h1m3 0h6m1 0h3m2 0h2m5 0h3m1 0h5m1 0h1m3 0h1m11 0h1m-58 1h3m2 0h6m1 0h9m1 0h2m5 0h5m2 0h2m1 0h1m2 0h1m-43 1h1m2 0h2m2 0h9m4 0h1m2 0h2m1 0h2m4 0h1m1 0h2m1 0h1m3 0h1m12 0h1m-53 1h1m1 0h10m1 0h6m1 0h9m1 0h1m1 0h2m1 0h1m4 0h3m2 0h1m-46 1h2m1 0h10m1 0h5m1 0h3m2 0h1m1 0h1m1 0h4m1 0h3m4 0h2m1 0h1m-45 1h1m1 0h3m2 0h5m2 0h8m1 0h1m1 0h3m1 0h1m1 0h1m4 0h1m2 0h3m1 0h1m5 0h1m-52 1h2m1 0h1m1 0h7m1 0h14m1 0h6m7 0h1m3 0h1m-46 1h2m4 0h2m1 0h3m2 0h1m1 0h3m1 0h3m1 0h1m1 0h7m1 0h1m3 0h2m1 0h1m2 0h3m2 0h1m1 0h1m6 0h1m-59 1h2m2 0h3m1 0h3m1 0h6m1 0h2m1 0h1m1 0h9m1 0h5m1 0h3m1 0h1m1 0h1m-46 1h2m2 0h5m1 0h3m1 0h7m1 0h6m2 0h1m1 0h1m1 0h1m1 0h1m1 0h2m1 0h2m1 0h2m3 0h1m1 0h2m-54 1h3m3 0h1m1 0h3m1 0h9m1 0h2m1 0h1m1 0h14m3 0h1m1 0h1m-47 1h1m2 0h5m1 0h15m2 0h6m1 0h2m1 0h2m3 0h1m2 0h1m2 0h1m8 0h1m-57 1h8m1 0h3m1 0h6m2 0h1m2 0h4m2 0h1m1 0h5m1 0h1m1 0h2m2 0h2m1 0h3m3 0h1m2 0h1m-57 1h3m1 0h8m2 0h6m1 0h4m1 0h1m1 0h5m1 0h1m2 0h4m1 0h1m1 0h3m-46 1h1m1 0h1m2 0h6m1 0h2m1 0h6m1 0h2m1 0h4m2 0h3m1 0h1m1 0h7m1 0h3m-48 1h1m1 0h4m1 0h6m2 0h1m1 0h4m1 0h10m1 0h1m1 0h2m4 0h3m2 0h1m4 0h1m-53 1h1m1 0h1m1 0h1m1 0h3m1 0h2m5 0h1m1 0h8m1 0h4m1 0h3m2 0h1m3 0h1m1 0h2m1 0h1m2 0h1m1 0h1m-53 1h1m2 0h8m3 0h1m4 0h1m1 0h12m1 0h3m1 0h2m1 0h1m2 0h3m1 0h1m4 0h1m-54 1h1m1 0h1m1 0h4m1 0h1m1 0h1m3 0h1m5 0h1m1 0h5m1 0h5m1 0h4m2 0h1m1 0h1m1 0h1m-46 1h7m2 0h1m2 0h2m3 0h1m1 0h2m2 0h1m3 0h5m1 0h1m2 0h3m2 0h1m1 0h2m1 0h1m1 0h2m2 0h1m-51 1h4m1 0h4m2 0h1m9 0h4m1 0h3m1 0h5m1 0h1m1 0h1m1 0h2m-43 1h1m1 0h6m6 0h1m5 0h6m2 0h3m1 0h3m2 0h1m1 0h1m2 0h2m-45 1h9m2 0h4m6 0h6m1 0h1m1 0h3m4 0h4m2 0h1m5 0h1m3 0h1m-53 1h1m2 0h2m1 0h3m8 0h1m3 0h12m2 0h2m2 0h4m9 0h1m-54 1h5m1 0h4m2 0h1m1 0h1m1 0h1m1 0h1m1 0h13m8 0h2m7 0h1m-47 1h1m2 0h1m1 0h1m2 0h1m1 0h1m1 0h1m1 0h1m1 0h4m1 0h7m2 0h1m1 0h1m1 0h1m1 0h1m1 0h1m4 0h1m1 0h1m-48 1h8m11 0h4m1 0h3m1 0h2m2 0h1m1 0h3m7 0h1m-46 1h3m1 0h5m6 0h1m2 0h1m1 0h3m2 0h6m2 0h2m2 0h1m1 0h1m7 0h1m-49 1h11m5 0h1m4 0h2m1 0h6m2 0h4m5 0h1m8 0h1m-50 1h2m2 0h3m1 0h1m6 0h8m1 0h1m1 0h3m1 0h4m7 0h1m-43 1h3m1 0h3m1 0h3m1 0h1m4 0h2m1 0h2m1 0h3m1 0h1m1 0h1m1 0h1m2 0h1m2 0h1m5 0h1m4 0h1m-48 1h2m2 0h4m1 0h2m1 0h1m1 0h4m1 0h9m1 0h2m4 0h2m4 0h1m-42 1h2m4 0h2m1 0h11m1 0h6m1 0h2m2 0h1m1 0h1m1 0h1m10 0h1m-48 1h1m3 0h2m1 0h9m1 0h5m1 0h9m1 0h1m12 0h1m-46 1h1m1 0h2m1 0h1m1 0h14m1 0h6m1 0h2m1 0h1m3 0h1m5 0h1m-45 1h7m3 0h15m1 0h5m1 0h3m1 0h1m-37 1h1m3 0h5m1 0h14m1 0h2m4 0h3m11 0h1m-45 1h1m3 0h3m1 0h7m2 0h4m1 0h1m1 0h8m3 0h1m-36 1h2m2 0h4m1 0h2m2 0h2m1 0h1m1 0h3m1 0h1m1 0h1m3 0h2m1 0h1m1 0h1m6 0h1m3 0h1m-46 1h1m1 0h10m1 0h8m2 0h1m2 0h7m7 0h1m3 0h1m1 0h1m-47 1h1m2 0h7m1 0h5m1 0h1m2 0h6m1 0h1m3 0h1m-30 1h1m1 0h1m1 0h1m1 0h8m1 0h9m3 0h2m1 0h1m2 0h1m3 0h1m3 0h1m-44 1h5m1 0h2m1 0h2m1 0h1m2 0h6m1 0h3m20 0h1m-44 1h1m1 0h1m2 0h5m1 0h2m1 0h3m1 0h3m1 0h1m1 0h1m1 0h1m3 0h1m2 0h1m6 0h1m2 0h1m-45 1h1m2 0h3m1 0h2m1 0h15m1 0h4m2 0h1m10 0h1" stroke="#e4281d" stroke-width="1" fill="none"/><path d="M293 435.5h1m-3 12h1m-2 1h2m1 0h1m-6 1h5m1 0h1m-8 1h3m2 0h3m1 0h1m-11 1h1m1 0h3m1 0h5m1 0h1m-13 1h2m2 0h3m1 0h1m2 0h2m-12 1h2m1 0h6m1 0h2m-14 1h6m1 0h5m-11 1h1m4 0h6m-11 1h8m1 0h3m-12 1h1m2 0h1m1 0h1m1 0h1m1 0h1m-10 1h2m1 0h1m1 0h1m1 0h1m-8 1h11m-9 1h2m1 0h1m1 0h2m1 0h1m-10 1h5m1 0h3m-12 1h1m1 0h4m1 0h1m-5 1h1m2 0h2" stroke="#ec461e" stroke-width="1" fill="none"/><path d="M291 450.5h1m4 3h1m-2 5h1m-6 2h1m-2 3h1" stroke="#f2701f" stroke-width="1" fill="none"/><rect x="317" y="388" width="1" height="1" fill="#b04848"/><rect x="344" y="438" width="1" height="1" fill="#b04848"/><rect x="337" y="448" width="1" height="1" fill="#b04848"/></g>
<g filter="url(#bl)"><path d="M415 406.5h1m1 0h2m-13 1h4m2 0h1m8 0h2m3 0h1m-23 1h1m2 0h1m8 0h2m1 0h1m1 0h1m-15 1h1m4 0h1m3 0h1m3 0h1m3 0h1m-20 1h1m19 0h1m-24 1h1m9 0h1m9 0h1m4 0h1m8 0h1m-36 1h1m12 0h1m2 0h1m5 0h1m-21 1h1m8 0h1m3 0h2m4 0h1m6 0h1m2 0h1m7 0h1m-42 1h2m4 0h1m3 0h1m13 0h1m4 0h1m2 0h1m2 0h2m-39 1h1m29 0h1m5 0h2m4 0h1m4 0h1m1 0h1m-45 1h1m29 0h1m8 0h1m4 0h1m-11 1h1m1 0h1m5 0h3m-2 1h1m2 0h1m-51 1h1m31 0h1m17 0h1m-6 1h1m-10 1h1m4 0h1m7 0h1m1 0h3m-24 1h1m9 0h1m1 0h1m11 0h1m-12 1h2m0 1h1m1 0h1m1 0h1m1 0h1m-3 1h1m-7 1h1m4 0h1m-3 1h1m2 0h1m-51 2h1m46 0h4m9 0h1m-8 1h1m-8 1h1m9 0h1m-8 1h1m7 0h1m-8 1h1m3 0h1m-4 2h2m6 0h1m-8 1h1m5 0h1m-4 1h1m2 1h1m1 0h2m-9 1h1m-4 1h1m3 0h1m1 0h1m3 0h1m1 0h1m-9 1h1m2 0h1m5 0h1m-9 1h1m3 0h1m-5 1h1m3 0h2m0 1h1m-12 1h1m2 2h1m2 0h1m1 0h1m-5 1h1m1 0h1m-14 1h1m8 0h1m-3 3h1m-10 3h1m14 0h1m0 1h1m-11 1h1m2 2h1m-6 1h1m1 0h1m2 0h1m2 0h1m1 0h1m-9 1h1m3 0h1m2 0h1m-6 1h2m-8 2h1m6 0h1m1 1h3m-6 1h1m-3 1h2m2 0h1m-9 1h1m2 0h1m0 1h1m-2 1h1m3 0h2m-5 1h1m4 0h1m-9 1h1m0 1h1m2 1h1m-6 1h1" stroke="#d8261e" stroke-width="1" fill="none"/><path d="M417 407.5h1m-9 1h2m9 0h1m1 0h2m-20 1h1m3 0h1m9 0h1m2 0h1m-19 1h1m8 0h1m7 0h1m5 0h1m6 0h1m-29 1h1m10 0h2m3 0h1m-16 1h1m3 0h2m7 0h1m5 0h1m-26 1h2m3 0h1m1 0h1m3 0h1m7 0h1m17 0h1m-35 1h1m2 0h3m6 0h1m6 0h1m14 0h3m-41 1h1m6 0h1m5 0h2m1 0h2m5 0h1m5 0h1m11 0h1m-41 1h1m3 0h4m2 0h1m1 0h2m2 0h2m1 0h1m5 0h2m13 0h1m1 0h1m-43 1h1m3 0h10m1 0h3m1 0h3m4 0h1m5 0h2m1 0h1m3 0h1m-37 1h2m1 0h1m1 0h2m1 0h1m1 0h3m3 0h3m6 0h1m12 0h1m-45 1h1m1 0h1m2 0h2m1 0h2m3 0h3m2 0h2m1 0h1m2 0h2m3 0h2m8 0h1m-35 1h3m1 0h2m1 0h2m2 0h3m1 0h3m2 0h2m2 0h1m1 0h1m9 0h2m-39 1h1m2 0h1m1 0h2m6 0h1m2 0h1m1 0h1m1 0h2m2 0h2m2 0h2m10 0h1m-45 1h2m2 0h3m2 0h1m1 0h1m1 0h1m1 0h1m1 0h1m1 0h2m1 0h1m2 0h2m1 0h2m2 0h2m1 0h1m6 0h1m6 0h1m4 0h1m-55 1h3m2 0h1m1 0h1m2 0h1m3 0h1m1 0h2m1 0h6m2 0h2m3 0h3m2 0h1m2 0h1m5 0h2m-47 1h1m5 0h1m1 0h2m2 0h1m1 0h2m1 0h2m1 0h2m1 0h1m1 0h1m4 0h5m1 0h1m2 0h1m2 0h1m3 0h1m3 0h1m-50 1h3m1 0h2m4 0h1m3 0h3m2 0h2m3 0h1m4 0h3m2 0h1m14 0h1m-52 1h2m2 0h2m3 0h1m2 0h1m1 0h1m3 0h2m2 0h3m1 0h5m1 0h3m2 0h3m2 0h1m8 0h1m5 0h1m-58 1h1m1 0h5m1 0h1m2 0h1m2 0h3m2 0h1m1 0h4m2 0h1m3 0h6m1 0h2m8 0h1m6 0h1m-55 1h15m1 0h1m1 0h2m1 0h1m1 0h1m1 0h1m1 0h1m2 0h2m1 0h1m1 0h4m6 0h1m10 0h1m-57 1h3m1 0h1m1 0h1m1 0h4m1 0h4m1 0h5m1 0h2m2 0h1m1 0h3m2 0h4m1 0h1m1 0h2m7 0h2m4 0h1m-59 1h2m1 0h1m2 0h6m1 0h3m1 0h1m1 0h2m1 0h2m2 0h1m2 0h7m1 0h2m1 0h1m1 0h1m1 0h1m1 0h1m-47 1h1m1 0h1m2 0h2m1 0h3m1 0h14m2 0h1m3 0h2m2 0h1m1 0h3m1 0h1m1 0h1m2 0h1m4 0h1m-53 1h2m2 0h1m1 0h4m1 0h2m1 0h1m1 0h1m1 0h3m1 0h3m1 0h1m2 0h2m1 0h4m2 0h1m3 0h1m3 0h1m1 0h1m-49 1h1m1 0h2m2 0h13m1 0h8m1 0h4m2 0h1m5 0h1m1 0h1m1 0h2m10 0h1m-56 1h1m1 0h2m1 0h1m1 0h7m1 0h6m3 0h3m1 0h5m3 0h3m13 0h1m3 0h3m-58 1h1m1 0h4m1 0h3m2 0h4m2 0h6m1 0h3m1 0h1m1 0h1m1 0h1m1 0h2m1 0h1m1 0h2m2 0h1m2 0h1m2 0h1m-53 1h1m1 0h2m2 0h3m1 0h8m1 0h1m2 0h5m1 0h1m1 0h2m1 0h4m2 0h1m2 0h2m2 0h2m2 0h1m4 0h1m4 0h1m-62 1h2m2 0h4m1 0h5m1 0h3m1 0h3m1 0h3m1 0h1m1 0h6m2 0h3m3 0h1m1 0h2m-47 1h1m3 0h9m1 0h3m1 0h12m1 0h2m2 0h1m2 0h2m1 0h1m1 0h1m2 0h2m7 0h1m6 0h1m-63 1h1m2 0h1m3 0h1m1 0h8m2 0h4m1 0h8m1 0h1m1 0h4m2 0h4m2 0h3m1 0h1m5 0h1m2 0h1m-60 1h1m1 0h1m1 0h4m1 0h1m3 0h12m1 0h1m1 0h3m1 0h2m1 0h1m2 0h2m1 0h1m1 0h2m1 0h3m7 0h3m-60 1h1m3 0h5m1 0h1m1 0h3m2 0h1m1 0h9m2 0h4m1 0h1m1 0h2m1 0h1m1 0h7m-49 1h11m1 0h4m1 0h3m1 0h3m1 0h10m1 0h3m1 0h10m6 0h1m-57 1h1m2 0h2m2 0h6m1 0h7m2 0h4m2 0h10m2 0h1m1 0h3m2 0h1m1 0h2m5 0h1m-58 1h2m1 0h1m1 0h1m2 0h5m1 0h1m2 0h5m1 0h6m2 0h4m2 0h4m2 0h7m8 0h1m1 0h1m-61 1h3m1 0h3m1 0h2m1 0h1m1 0h1m1 0h1m1 0h11m1 0h5m1 0h3m1 0h1m1 0h2m1 0h1m1 0h3m8 0h1m-57 1h2m1 0h6m1 0h4m1 0h2m1 0h1m1 0h1m1 0h2m1 0h10m2 0h1m4 0h3m-45 1h10m1 0h1m4 0h4m2 0h14m1 0h2m1 0h3m1 0h1m-46 1h2m1 0h3m2 0h12m1 0h3m2 0h12m1 0h5m5 0h1m-50 1h1m1 0h7m1 0h3m1 0h2m1 0h9m2 0h5m1 0h1m1 0h2m1 0h1m1 0h1m6 0h1m5 0h1m-55 1h1m2 0h1m1 0h3m2 0h2m1 0h2m1 0h3m1 0h4m2 0h4m1 0h1m1 0h4m1 0h2m1 0h1m3 0h1m1 0h1m1 0h1m1 0h1m2 0h2m1 0h1m-58 1h2m1 0h24m1 0h8m1 0h2m1 0h1m3 0h1m1 0h1m9 0h1m-57 1h1m1 0h6m1 0h9m1 0h1m1 0h1m1 0h1m1 0h1m1 0h9m1 0h1m2 0h1m1 0h2m7 0h1m-52 1h1m2 0h2m1 0h1m2 0h2m1 0h14m2 0h3m1 0h4m3 0h2m2 0h2m1 0h1m-46 1h8m2 0h3m1 0h7m1 0h9m1 0h3m2 0h2m1 0h1m3 0h1m-45 1h1m2 0h15m1 0h2m1 0h8m1 0h5m1 0h1m3 0h1m2 0h1m7 0h1m-54 1h1m1 0h4m1 0h1m1 0h2m1 0h3m1 0h1m1 0h2m1 0h9m1 0h4m1 0h1m3 0h4m1 0h2m2 0h2m-50 1h2m2 0h5m1 0h3m1 0h2m1 0h3m1 0h2m2 0h11m3 0h2m2 0h1m7 0h1m1 0h1m-54 1h3m2 0h2m1 0h2m1 0h3m1 0h4m1 0h5m1 0h2m1 0h4m1 0h2m1 0h1m1 0h1m1 0h1m-43 1h1m1 0h2m2 0h8m1 0h2m1 0h8m2 0h3m1 0h1m2 0h1m1 0h3m2 0h2m2 0h2m-48 1h3m2 0h2m1 0h1m2 0h2m1 0h6m1 0h1m1 0h2m1 0h7m1 0h1m1 0h2m1 0h1m1 0h1m2 0h1m-45 1h4m1 0h12m1 0h1m1 0h1m1 0h3m1 0h5m1 0h2m1 0h1m1 0h1m2 0h2m1 0h1m4 0h1m-49 1h4m1 0h4m1 0h1m1 0h1m2 0h14m1 0h4m1 0h1m1 0h1m1 0h3m6 0h1m-46 1h11m1 0h6m1 0h5m2 0h5m2 0h2m2 0h1m1 0h1m9 0h2m-54 1h1m1 0h27m1 0h2m3 0h4m3 0h1m8 0h1m-48 1h7m1 0h8m1 0h6m1 0h4m2 0h1m1 0h1m1 0h1m3 0h1m1 0h1m2 0h1m-46 1h7m2 0h9m1 0h4m1 0h6m1 0h1m1 0h1m1 0h6m4 0h1m3 0h1m-51 1h1m1 0h3m2 0h7m3 0h2m1 0h8m1 0h1m2 0h2m1 0h3m1 0h2m2 0h1m5 0h1m-51 1h8m1 0h3m1 0h4m1 0h13m4 0h2m1 0h1m1 0h2m8 0h1m-50 1h7m1 0h1m1 0h1m1 0h2m1 0h10m1 0h6m2 0h1m1 0h1m3 0h1m6 0h1m-48 1h5m1 0h1m2 0h2m1 0h4m2 0h4m1 0h8m1 0h2m1 0h1m2 0h1m1 0h1m5 0h1m-48 1h1m1 0h13m3 0h1m3 0h6m1 0h5m2 0h3m2 0h1m-42 1h7m1 0h4m2 0h1m1 0h4m1 0h2m2 0h1m1 0h3m2 0h1m1 0h4m1 0h2m7 0h1m-48 1h6m1 0h1m2 0h2m1 0h4m1 0h5m1 0h1m1 0h2m1 0h2m1 0h2m2 0h3m6 0h1m-47 1h6m1 0h4m1 0h9m1 0h2m3 0h1m1 0h3m1 0h1m1 0h2m1 0h1m1 0h2m-40 1h1m1 0h2m1 0h1m1 0h1m1 0h1m1 0h4m1 0h1m2 0h2m1 0h3m2 0h2m1 0h1m1 0h1m1 0h3m1 0h1m4 0h1m-46 1h1m3 0h1m1 0h1m1 0h2m1 0h2m2 0h1m1 0h12m1 0h1m1 0h3m1 0h1m2 0h1m2 0h1m3 0h1m-47 1h1m1 0h10m1 0h18m2 0h1m1 0h1m1 0h1m1 0h1m1 0h1m3 0h3" stroke="#e4281d" stroke-width="1" fill="none"/><path d="M410 443.5h1m5 32h1" stroke="#ec461e" stroke-width="1" fill="none"/><rect x="450" y="404" width="1" height="1" fill="#b04848"/></g>
<g filter="url(#bl)"><path d="M79 597.5h1m-3 1h2m-5 1h1m-1 1h1m-1 1h1m5 0h1m-11 1h1m-2 1h1m1 0h1m3 0h1m1 0h1m-13 2h1m8 0h1m-12 1h1m-5 1h1m15 0h1m-41 1h1m27 0h2m-28 1h1m19 0h2m14 0h1m-29 2h1m11 0h1m2 0h2m-20 1h1m6 0h1m3 0h1m-8 1h1m2 0h1m6 0h1m-11 1h1m5 0h1m-22 1h1m2 0h1m2 0h1m5 0h2m4 0h1m-4 1h1m1 0h1m18 0h1m-36 1h1m4 0h1m4 0h1m4 0h1m2 0h1m1 0h1m-7 1h2m3 0h1m-4 1h1m-16 1h1m5 0h1m2 0h1m23 0h1m-26 1h1m-7 1h1m-1 1h1m26 0h1m-30 1h1m-3 1h1m28 1h1m2 0h1m-4 1h1m1 0h1m-1 1h1m-4 3h1m0 1h1m-2 1h1m-5 4h1m1 1h1m-3 1h1m0 5h1m-5 3h1" stroke="#d8261e" stroke-width="1" fill="none"/><path d="M78 599.5h1m1 0h1m-3 1h1m-9 3h1m-4 2h2m2 0h2m-3 1h1m1 0h1m-5 1h2m1 0h1m-7 1h2m2 0h2m1 0h1m-13 1h1m3 0h5m1 0h1m-38 1h1m4 0h1m13 0h2m2 0h1m6 0h1m1 0h1m1 0h5m-20 1h1m3 0h1m8 0h5m-34 1h1m20 0h1m4 0h5m1 0h1m-38 1h1m21 0h1m6 0h3m1 0h2m1 0h2m-10 1h7m1 0h1m1 0h1m-31 1h1m7 0h1m10 0h1m1 0h1m2 0h2m1 0h2m-37 1h1m3 0h1m7 0h1m6 0h1m1 0h1m2 0h2m1 0h2m1 0h4m-30 1h1m17 0h2m1 0h5m1 0h2m-27 1h1m2 0h1m11 0h3m1 0h1m1 0h3m1 0h2m1 0h1m-35 1h1m13 0h1m3 0h1m2 0h8m1 0h3m-32 1h1m11 0h1m4 0h1m1 0h10m1 0h2m-32 1h1m6 0h1m5 0h2m1 0h6m2 0h7m-32 1h1m12 0h1m2 0h1m2 0h11m1 0h2m-28 1h1m1 0h1m1 0h1m5 0h1m2 0h5m2 0h2m1 0h3m1 0h1m-32 1h1m3 0h1m1 0h1m3 0h1m1 0h4m1 0h4m1 0h1m3 0h4m-28 1h1m1 0h1m2 0h4m1 0h6m1 0h4m2 0h1m-24 1h5m2 0h2m1 0h5m2 0h5m1 0h1m3 0h1m-30 1h7m2 0h4m1 0h6m1 0h2m2 0h2m-28 1h1m2 0h8m1 0h2m1 0h1m1 0h1m5 0h2m1 0h4m-30 1h9m1 0h3m1 0h3m5 0h4m2 0h1m-29 1h5m1 0h3m1 0h4m9 0h3m-26 1h3m2 0h6m7 0h1m3 0h2m2 0h1m-26 1h3m1 0h1m15 0h5m-23 1h5m11 0h1m1 0h4m2 0h1m-28 1h5m14 0h7m-26 1h5m10 0h1m2 0h3m1 0h3m-24 1h2m13 0h1m1 0h1m2 0h3m1 0h1m-26 1h1m1 0h1m13 0h5m4 0h1m-26 1h2m13 0h6m1 0h2m-21 1h1m9 0h1m1 0h5m1 0h1m-7 1h6m1 0h1m1 0h1m-11 1h2m1 0h4m1 0h1m-11 1h1m2 0h2m1 0h1m1 0h1m-9 1h3m1 0h5m1 0h1m2 0h1m-14 1h6m1 0h2m-9 1h2m2 0h6m1 0h1m-12 1h4m1 0h5m-11 1h1m1 0h3m1 0h1m1 0h1" stroke="#e4281d" stroke-width="1" fill="none"/><path d="M52 627.5h1m-4 1h3m1 0h1m-6 1h2m1 0h2m-8 1h3m1 0h5m-10 1h1m3 0h1m2 0h2m-14 1h9m1 0h3m-13 1h3m1 0h2m2 0h1m1 0h1m-14 1h8m1 0h1m1 0h1m1 0h1m-14 1h3m1 0h1m1 0h1m2 0h1m1 0h2m-14 1h2m1 0h3m3 0h3m1 0h1m-15 1h4m2 0h1m1 0h1m2 0h2m-14 1h1m1 0h3m1 0h1m2 0h2m1 0h1m-15 1h1m1 0h1m4 0h1m2 0h1m-11 1h7m2 0h1m2 0h3m-15 1h1m1 0h2m1 0h2m1 0h1m1 0h2m1 0h1m-13 1h1m1 0h3m1 0h1m1 0h3m1 0h1m-14 1h3m2 0h1m1 0h2m1 0h2m-11 1h5m2 0h4m-12 1h8m1 0h3m-11 1h1m2 0h2m1 0h2m1 0h2m-12 1h1m1 0h1m1 0h2m1 0h1m2 0h1" stroke="#ec461e" stroke-width="1" fill="none"/><path d="M52 628.5h1m-3 1h1m-3 1h1m-6 1h1m1 0h3m2 0h1m-3 1h1m-7 1h1m2 0h2m-3 1h1m3 0h1m-8 1h1m1 0h2m-4 1h3m-6 1h2m1 0h1m1 0h2m-11 1h1m5 0h2m2 0h1m-13 1h1m3 0h1m2 0h2m1 0h2m-6 1h2m1 0h1m-10 1h1m2 0h1m2 0h1m1 0h1m-10 1h1m1 0h1m3 0h1m1 0h1m-6 1h2m1 0h1m2 0h1m-10 1h1m5 0h2m0 1h1m-9 1h1m1 0h2m2 0h1m2 0h1m-9 1h1m4 0h1m1 0h2" stroke="#f2701f" stroke-width="1" fill="none"/><path d="M42 640.5h1" stroke="#f59a25" stroke-width="1" fill="none"/><rect x="46" y="590" width="1" height="1" fill="#b04848"/></g>
<g filter="url(#bl)"><path d="M172 582.5h1m-7 4h1m-6 6h1m-6 4h1m20 0h1m-19 1h1m-5 1h1m4 0h1m-7 1h1m9 0h1m-10 1h1m5 0h1m6 0h2m5 0h1m8 0h1m-9 1h1m2 0h1m11 0h1m-29 1h1m19 0h1m5 0h1m4 0h1m2 0h1m-39 1h1m12 0h2m8 0h1m2 0h1m6 0h1m-29 1h1m2 0h1m9 0h1m12 0h1m1 0h1m-36 1h1m10 0h1m13 0h1m16 0h1m-32 1h1m2 0h1m4 0h1m17 0h1m-39 1h1m4 0h1m3 0h1m30 0h1m-43 1h1m4 0h1m2 0h1m12 0h1m-7 1h1m9 0h1m-19 1h2m9 0h1m6 0h1m-16 2h1m1 0h1m25 0h2m-39 1h1m15 0h1m21 0h2m-41 1h1m15 0h1m1 0h1m-19 1h1m36 1h1m-37 1h1m1 0h1m29 0h1m3 0h1m1 0h1m-37 1h1m2 1h1m27 0h1m1 0h1m-3 1h1m1 1h2m-8 1h1m-4 3h1m3 0h1m1 3h1m-9 2h1m0 1h1m-2 1h2m-1 1h1m2 0h1m0 1h1m-6 2h1m-1 4h1m-5 2h1m-1 1h1m5 2h1m-8 2h1m3 0h1m1 0h1" stroke="#d8261e" stroke-width="1" fill="none"/><path d="M156 599.5h1m4 0h1m0 1h1m-7 1h1m7 0h1m7 0h1m-12 1h1m2 0h1m13 0h1m-18 1h1m4 0h1m9 1h1m4 0h1m13 0h1m-25 1h1m2 0h1m2 0h1m11 0h1m1 0h2m1 0h1m-22 1h1m9 0h1m6 0h1m5 0h1m-38 1h1m15 0h1m2 0h1m5 0h1m4 0h2m1 0h1m-36 1h1m8 0h1m11 0h1m2 0h1m3 0h1m1 0h1m1 0h3m5 0h1m-41 1h1m25 0h2m1 0h5m1 0h2m-40 1h1m23 0h1m1 0h1m1 0h6m1 0h1m1 0h1m3 0h1m-41 1h1m2 0h1m2 0h1m1 0h1m7 0h2m5 0h1m1 0h4m1 0h7m-33 1h2m7 0h1m11 0h3m1 0h4m1 0h1m5 0h1m-40 1h1m10 0h1m9 0h14m-27 1h1m4 0h1m1 0h1m2 0h3m1 0h2m1 0h3m1 0h4m4 0h1m-35 1h1m4 0h1m6 0h1m1 0h4m3 0h1m1 0h3m1 0h1m1 0h1m-27 1h1m7 0h1m2 0h2m1 0h12m-27 1h1m6 0h3m1 0h2m1 0h1m2 0h5m1 0h2m2 0h1m-24 1h3m1 0h1m1 0h3m1 0h4m1 0h1m1 0h3m-30 1h1m9 0h1m1 0h15m1 0h2m2 0h1m-26 1h1m3 0h2m2 0h5m1 0h3m1 0h3m-24 1h1m1 0h7m1 0h5m1 0h5m1 0h2m-24 1h1m1 0h6m1 0h4m1 0h1m1 0h7m-27 1h4m1 0h1m1 0h1m1 0h11m1 0h6m-28 1h1m2 0h23m-26 1h1m1 0h2m1 0h5m1 0h15m-26 1h1m2 0h13m1 0h1m1 0h1m1 0h3m-24 1h1m1 0h1m1 0h1m1 0h1m1 0h12m3 0h1m-24 1h3m1 0h3m3 0h1m3 0h2m1 0h5m1 0h4m-27 1h3m1 0h1m11 0h8m-24 1h4m11 0h7m-22 1h2m13 0h9m-23 1h1m12 0h1m1 0h4m1 0h1m1 0h1m-21 1h1m9 0h1m2 0h5m1 0h1m4 0h1m-12 1h4m1 0h2m4 0h1m1 0h1m-14 1h5m7 0h1m-14 1h7m4 0h1m-12 1h3m2 0h2m1 0h1m-10 1h4m1 0h2m-18 1h1m10 0h3m1 0h2m2 0h1m-9 1h1m1 0h5m3 0h1m-11 1h6m2 0h1m-10 1h8m-9 1h2m1 0h4m-8 1h2m2 0h3m-7 1h4m2 0h3m-18 1h1m8 0h4m1 0h3m2 0h2m-22 1h1m8 0h3m1 0h2m2 0h2m1 0h1m3 0h1" stroke="#e4281d" stroke-width="1" fill="none"/><path d="M162 628.5h1m2 0h3m-9 1h5m1 0h5m-11 1h3m1 0h1m1 0h4m-13 1h4m1 0h1m1 0h1m1 0h4m-15 1h1m1 0h9m1 0h1m2 0h1m-14 1h1m1 0h4m1 0h4m1 0h2m-16 1h5m3 0h1m1 0h1m1 0h4m-16 1h2m1 0h7m1 0h1m1 0h3m-16 1h1m1 0h13m-15 1h4m1 0h6m3 0h1m-15 1h10m1 0h1m-11 1h1m2 0h5m1 0h1m2 0h1m-13 1h1m1 0h4m1 0h1m2 0h1m-11 1h1m1 0h3m4 0h4m-14 1h2m2 0h5m1 0h3m-13 1h1m2 0h2m1 0h1m1 0h3m-10 1h1m1 0h5m1 0h1m-10 1h1m4 0h6m-11 1h1m2 0h1m2 0h1m1 0h3m-11 1h1m1 0h8" stroke="#ec461e" stroke-width="1" fill="none"/><path d="M163 628.5h1m0 1h1m-7 1h1m5 0h1m-5 1h1m3 0h1m0 1h1m-12 1h2m6 0h1m-4 1h3m1 0h1m1 0h1m-10 1h1m7 0h1m1 0h1m-12 1h1m9 1h3m-4 1h1m1 0h2m-14 1h1m1 0h1m6 0h1m1 0h2m-13 1h1m1 0h1m4 0h1m1 0h2m1 0h1m-11 1h1m3 0h3m-7 1h2m5 0h1m-9 1h2m2 0h1m5 0h1m-12 1h1m1 0h1m5 0h1m1 0h1m-10 1h4m-4 1h1m2 0h2m1 0h1" stroke="#f2701f" stroke-width="1" fill="none"/></g>
<g filter="url(#bl)"><path d="M285 577.5h1m-4 1h1m6 0h1m3 0h1m-11 1h1m1 0h1m6 0h2m-12 1h1m15 0h1m-21 1h1m17 0h1m2 0h1m-22 1h1m4 0h1m11 0h1m-20 1h1m3 0h1m20 0h1m-18 1h1m4 0h1m1 0h1m6 0h2m-15 1h1m6 0h1m-10 1h1m11 0h2m-19 1h2m4 0h1m1 0h1m22 1h1m-27 1h1m4 0h1m4 0h1m3 0h1m9 0h1m7 0h1m-38 1h1m5 0h1m10 0h2m6 0h1m1 0h1m7 0h1m-35 1h1m7 0h1m13 0h1m6 0h1m1 0h1m3 0h1m-38 1h1m32 0h1m8 0h1m1 0h1m-33 1h1m3 0h1m2 0h1m1 0h1m8 0h1m8 0h1m-12 1h1m6 0h1m8 0h1m1 0h1m2 0h1m-34 1h2m18 0h1m1 0h1m8 0h1m-22 1h1m6 0h1m-9 1h2m12 0h1m-21 1h1m2 0h1m16 0h1m8 0h1m-30 1h1m2 0h1m5 0h1m-5 1h3m0 1h1m19 0h1m-31 1h1m7 0h1m-20 4h1m35 0h1m-2 1h1m-1 1h1m1 0h1m-34 3h1m26 0h1m0 1h1m0 1h1m-4 4h1m-5 3h1m-2 1h1m-1 1h1m-2 2h1m1 2h1m-5 1h1m-1 1h1m-4 2h2m2 0h1m-2 1h1m-1 3h1m-4 1h1m1 0h1m-2 1h1m-5 6h4m-4 2h2" stroke="#d8261e" stroke-width="1" fill="none"/><path d="M288 578.5h1m1 1h1m-1 1h1m3 0h1m-14 1h1m3 0h2m6 0h1m-2 1h1m4 0h1m-16 1h1m4 0h1m-9 1h1m14 0h1m2 1h1m-22 1h1m1 0h1m1 0h1m5 0h1m3 0h1m-9 1h1m4 0h1m14 0h1m-24 1h1m7 0h1m2 0h1m8 0h1m4 0h1m2 0h1m-16 1h1m11 0h1m4 0h1m-34 1h1m11 0h1m2 0h1m16 0h1m-19 1h1m12 0h1m-24 1h1m1 0h1m4 0h1m5 0h1m9 0h2m1 0h1m4 0h2m1 0h1m-39 1h1m2 0h1m2 0h1m1 0h1m1 0h1m14 0h1m7 0h1m1 0h2m6 0h1m-36 1h1m5 0h1m6 0h1m6 0h1m8 0h3m3 0h1m-42 1h6m4 0h1m21 0h1m7 0h1m-41 1h1m5 0h2m1 0h2m1 0h1m14 0h1m8 0h1m7 0h1m-47 1h4m1 0h1m3 0h1m1 0h2m1 0h1m1 0h1m17 0h1m1 0h1m10 0h1m-46 1h1m2 0h4m2 0h1m2 0h2m3 0h1m1 0h1m12 0h1m3 0h1m4 0h2m1 0h1m-44 1h1m2 0h1m1 0h3m1 0h5m8 0h2m6 0h1m7 0h1m-38 1h2m1 0h6m2 0h3m1 0h1m1 0h1m13 0h1m2 0h1m3 0h1m-43 1h1m3 0h3m3 0h3m1 0h1m1 0h2m1 0h2m10 0h1m1 0h1m2 0h1m2 0h1m2 0h1m1 0h2m-42 1h2m2 0h1m1 0h2m1 0h1m1 0h1m4 0h1m15 0h1m1 0h1m3 0h2m-44 1h1m1 0h1m1 0h1m1 0h1m1 0h3m1 0h1m1 0h1m1 0h2m2 0h1m4 0h1m1 0h1m8 0h1m1 0h4m1 0h1m-44 1h1m1 0h1m1 0h1m1 0h2m1 0h1m1 0h9m3 0h2m1 0h2m3 0h4m2 0h1m1 0h5m-43 1h2m1 0h1m1 0h4m1 0h1m3 0h2m2 0h1m4 0h1m3 0h4m3 0h9m-44 1h1m1 0h1m5 0h1m1 0h1m7 0h3m1 0h3m1 0h3m5 0h3m1 0h4m-40 1h2m3 0h3m2 0h3m2 0h1m3 0h2m1 0h1m1 0h14m1 0h1m-41 1h1m4 0h1m1 0h3m1 0h2m3 0h1m6 0h2m4 0h1m3 0h4m-36 1h2m1 0h2m2 0h5m1 0h2m2 0h2m2 0h1m1 0h1m1 0h5m1 0h2m2 0h4m-38 1h2m4 0h2m1 0h1m7 0h1m1 0h1m3 0h4m1 0h2m2 0h4m-36 1h1m3 0h1m1 0h1m3 0h3m2 0h1m3 0h5m1 0h10m-38 1h1m1 0h1m2 0h3m2 0h1m1 0h1m7 0h1m1 0h1m1 0h3m1 0h1m3 0h3m-35 1h5m1 0h2m2 0h4m2 0h2m2 0h11m1 0h2m1 0h1m-35 1h1m2 0h1m1 0h3m2 0h1m1 0h1m1 0h17m1 0h1m3 0h1m-37 1h2m5 0h3m1 0h11m1 0h1m1 0h1m1 0h2m1 0h5m-36 1h2m3 0h1m1 0h13m1 0h8m1 0h2m-31 1h1m2 0h1m1 0h2m2 0h2m1 0h5m1 0h5m1 0h3m1 0h1m1 0h1m-32 1h1m2 0h1m1 0h3m1 0h2m1 0h4m1 0h1m1 0h13m-32 1h1m1 0h2m1 0h8m1 0h2m1 0h2m1 0h4m2 0h5m-31 1h2m4 0h22m1 0h1m-30 1h2m1 0h2m1 0h5m1 0h3m1 0h2m1 0h5m2 0h4m1 0h1m-32 1h1m2 0h2m1 0h2m1 0h7m1 0h7m1 0h5m-30 1h3m2 0h5m1 0h4m1 0h2m1 0h1m2 0h4m1 0h2m-29 1h2m1 0h10m1 0h1m5 0h2m2 0h1m4 0h1m-30 1h3m1 0h1m1 0h1m13 0h4m2 0h1m-26 1h1m1 0h5m11 0h7m5 0h1m-32 1h4m1 0h1m7 0h1m6 0h7m1 0h1m-29 1h7m13 0h5m-25 1h3m1 0h1m16 0h5m1 0h2m-29 1h1m1 0h2m15 0h7m2 0h1m-29 1h5m15 0h2m2 0h4m-28 1h2m17 0h4m3 0h1m-10 1h5m1 0h1m-6 1h4m1 0h1m-8 1h3m1 0h2m1 0h3m-12 1h4m1 0h5m-9 1h5m2 0h2m-11 1h9m-9 1h3m1 0h3m3 0h1m-12 1h9m1 0h1m-17 1h1m6 0h8m1 0h1m-10 1h4m1 0h3m-7 1h5m2 0h1m1 0h1m-11 1h1m1 0h8m-13 1h4m2 0h1m1 0h1m1 0h3m-20 1h1m6 0h4m1 0h5m1 0h2m-17 1h1m3 0h6m1 0h3m2 0h2" stroke="#e4281d" stroke-width="1" fill="none"/><path d="M306 615.5h1m-16 8h1m-3 1h1m1 0h3m1 0h1m-12 1h7m1 0h4m-12 1h1m1 0h1m1 0h1m2 0h4m-13 1h2m1 0h1m1 0h2m1 0h2m2 0h2m-13 1h1m2 0h10m-15 1h9m1 0h1m1 0h3m-16 1h5m1 0h2m1 0h1m1 0h2m-11 1h7m1 0h2m1 0h3m-18 1h4m1 0h1m1 0h2m1 0h7m-19 1h1m3 0h1m2 0h2m1 0h3m1 0h3m-16 1h6m1 0h1m1 0h4m1 0h3m-17 1h6m2 0h1m1 0h2m1 0h2m-16 1h2m2 0h10m-14 1h5m1 0h5m1 0h1m1 0h1m-15 1h10m1 0h2m-13 1h1m2 0h2m2 0h4m1 0h1m-13 1h1m1 0h3m1 0h1m4 0h1m-10 1h1m1 0h2m1 0h1m1 0h4m-12 1h4m1 0h1m3 0h3m-11 1h2m1 0h1m1 0h3m1 0h1m-11 1h3m1 0h7m-10 1h1m3 0h1m2 0h1m-10 1h1m1 0h1m1 0h1m1 0h2m-8 1h1m2 0h2m2 0h3" stroke="#ec461e" stroke-width="1" fill="none"/><path d="M294 624.5h1m-4 1h1m-7 1h1m1 0h1m1 0h2m-7 1h1m1 0h1m5 0h2m-9 1h1m4 1h1m1 0h1m-8 1h1m2 0h1m1 0h1m2 0h2m-14 1h1m10 0h1m-11 1h1m1 0h1m2 0h1m-10 1h2m1 0h2m2 0h1m3 0h1m-14 1h1m6 0h1m1 0h1m4 0h1m-15 1h1m6 0h2m1 0h1m2 0h1m-12 1h2m1 1h1m5 0h1m1 0h1m-4 1h1m-10 1h2m2 0h2m4 0h1m-11 1h1m3 0h1m1 0h4m-10 1h1m1 0h1m4 0h1m-9 1h1m4 0h1m2 0h2m-10 1h2m2 0h1m1 0h1m3 0h1m-11 1h1m3 0h1m-5 1h2m3 0h1m1 0h2m-8 1h1m3 0h1m2 0h1m-8 1h2m2 0h1" stroke="#f2701f" stroke-width="1" fill="none"/></g>
<g filter="url(#bl)"><path d="M409 571.5h1m2 0h1m-7 1h1m-5 1h2m7 0h1m-9 2h1m-2 1h1m1 0h1m4 1h1m1 0h1m-13 1h2m12 0h1m-14 1h1m2 0h1m5 1h1m1 0h1m2 0h2m-9 1h2m1 0h1m1 1h1m-12 1h1m6 0h1m-11 2h1m2 0h1m5 0h1m8 0h2m-19 2h1m1 0h1m3 0h1m4 0h1m7 0h1m-22 1h1m8 0h1m11 0h1m-12 1h1m1 0h1m5 1h1m1 0h1m4 0h1m-14 1h1m13 0h2m1 2h1m3 0h1m-34 1h1m18 0h1m1 0h1m3 0h1m3 0h1m3 0h1m-17 1h1m3 0h1m8 0h1m-24 1h1m11 0h1m11 0h2m-31 1h1m29 0h1m-5 1h1m3 0h1m4 0h1m2 0h1m-7 1h1m0 1h1m3 0h1m5 0h1m-1 1h1m-4 1h1m2 0h1m-3 3h1m1 1h1m-24 2h1m20 0h1m-4 1h1m-6 1h1m4 0h1m-6 5h1m-2 1h1m-3 2h1m-1 1h1m1 2h1m-4 1h1m-1 1h1m-2 1h1m0 1h1m-1 1h1m0 1h1m-2 2h1m-1 1h1m-3 1h1m1 0h1m-4 6h1m-2 1h1m1 0h1m-2 4h1m-1 1h1m1 0h1m1 0h1m1 1h1m-5 2h1m-3 1h1" stroke="#d8261e" stroke-width="1" fill="none"/><path d="M413 573.5h1m-14 1h2m3 1h1m4 0h1m-14 1h1m4 1h1m11 0h1m-14 1h1m2 1h1m5 0h1m2 0h1m-9 1h1m4 0h1m1 0h1m-14 1h1m1 0h2m2 0h1m6 0h1m1 0h1m-6 1h1m2 2h1m2 0h1m-6 1h1m-6 1h1m-6 1h1m2 0h1m2 0h1m6 1h2m1 0h2m-16 1h2m13 0h1m-20 1h1m1 0h3m-6 1h1m2 0h4m1 0h1m5 0h2m-15 1h1m3 0h1m1 0h1m1 0h2m3 0h1m8 0h1m-23 1h1m4 0h2m2 0h2m1 0h2m1 0h1m-13 1h2m1 0h1m2 0h4m1 0h2m-14 1h1m1 0h1m5 0h1m3 0h1m15 0h1m-29 1h1m1 0h1m3 0h3m1 0h1m16 0h1m-30 1h1m1 0h1m3 0h1m1 0h2m1 0h1m1 0h1m2 0h1m1 0h1m4 0h1m-25 1h1m2 0h1m1 0h1m1 0h1m6 0h2m1 0h1m1 0h1m1 0h1m1 0h1m9 0h1m-34 1h1m1 0h1m2 0h1m2 0h1m2 0h1m4 0h1m1 0h1m3 0h3m6 0h1m-32 1h3m5 0h3m2 0h1m1 0h1m4 0h1m2 0h1m4 0h1m2 0h1m2 0h1m3 0h1m-39 1h1m2 0h1m6 0h3m3 0h1m2 0h2m1 0h3m3 0h1m1 0h2m5 0h1m1 0h1m-38 1h4m4 0h1m3 0h1m3 0h1m2 0h1m1 0h1m1 0h4m7 0h1m3 0h1m-41 1h2m1 0h1m2 0h2m1 0h1m1 0h2m1 0h1m4 0h1m9 0h1m3 0h3m-34 1h1m7 0h4m1 0h1m2 0h1m1 0h1m1 0h2m2 0h2m7 0h1m2 0h1m2 0h1m-38 1h1m5 0h2m1 0h3m1 0h3m2 0h2m4 0h1m2 0h4m2 0h1m2 0h1m-41 1h2m2 0h1m5 0h1m2 0h5m5 0h1m1 0h1m4 0h1m1 0h2m2 0h1m1 0h3m-39 1h2m2 0h1m1 0h1m1 0h5m7 0h1m4 0h1m2 0h2m2 0h1m1 0h1m1 0h1m1 0h1m-40 1h1m1 0h7m1 0h1m3 0h1m1 0h1m1 0h2m3 0h1m1 0h2m1 0h1m1 0h2m4 0h1m2 0h1m-41 1h1m1 0h1m1 0h1m3 0h1m1 0h3m1 0h1m1 0h3m5 0h2m2 0h2m2 0h2m-30 1h5m1 0h3m1 0h3m5 0h3m1 0h2m1 0h4m1 0h1m-32 1h5m3 0h2m2 0h1m1 0h1m1 0h1m1 0h2m1 0h1m1 0h1m2 0h3m2 0h3m-36 1h17m1 0h2m3 0h7m1 0h3m1 0h1m-37 1h4m1 0h5m1 0h6m1 0h2m1 0h6m1 0h4m1 0h1m1 0h1m-36 1h16m1 0h4m2 0h11m1 0h1m-36 1h11m1 0h4m1 0h3m1 0h8m1 0h3m-33 1h12m1 0h9m1 0h3m1 0h3m1 0h3m-34 1h1m1 0h2m1 0h1m1 0h5m1 0h4m1 0h2m1 0h2m2 0h5m1 0h1m-32 1h7m1 0h6m1 0h4m1 0h7m1 0h4m-32 1h1m1 0h1m1 0h4m1 0h1m1 0h6m1 0h2m2 0h5m1 0h2m-30 1h1m1 0h8m1 0h1m1 0h4m1 0h11m1 0h1m-31 1h9m1 0h2m1 0h1m1 0h3m1 0h2m1 0h2m1 0h5m1 0h1m-31 1h1m1 0h3m2 0h1m2 0h1m2 0h4m2 0h2m1 0h6m-29 1h1m1 0h2m7 0h1m4 0h1m1 0h1m1 0h4m1 0h4m1 0h1m-31 1h1m1 0h2m13 0h2m1 0h1m1 0h3m1 0h2m-11 1h11m1 0h1m-30 1h1m16 0h10m-9 1h4m1 0h3m-8 1h11m-26 1h1m13 0h3m1 0h6m-9 1h8m1 0h1m-23 1h1m10 0h1m1 0h2m1 0h5m1 0h1m-27 1h1m14 0h1m1 0h7m2 0h1m2 0h1m-14 1h8m1 0h2m-26 1h1m3 0h1m10 0h3m2 0h5m-11 1h6m1 0h1m2 0h2m-12 1h5m1 0h5m1 0h1m-13 1h1m1 0h3m1 0h2m1 0h1m-12 1h1m2 0h1m1 0h5m1 0h1m-10 1h2m1 0h4m1 0h1m1 0h1m2 0h1m-21 1h1m4 0h6m2 0h4m2 0h1m-14 1h6m1 0h1m1 0h1m2 0h1m-14 1h3m2 0h6m2 0h1m-14 1h13m-14 1h7m1 0h2m1 0h1m1 0h1m-15 1h6m3 0h3m1 0h2m-16 1h9m1 0h2m4 0h1m1 0h1m-19 1h7m1 0h5m2 0h1m3 0h1" stroke="#e4281d" stroke-width="1" fill="none"/><path d="M403 622.5h1m3 0h1m1 0h1m-8 1h6m1 0h4m1 0h1m-14 1h1m1 0h8m1 0h2m-17 1h2m1 0h1m1 0h1m1 0h4m1 0h1m1 0h2m-15 1h3m2 0h4m3 0h4m-16 1h1m2 0h8m1 0h1m1 0h2m-17 1h7m1 0h10m-18 1h3m1 0h2m3 0h2m1 0h1m1 0h1m-15 1h9m1 0h2m1 0h5m-17 1h2m1 0h1m3 0h3m1 0h2m3 0h1m-18 1h1m2 0h2m1 0h9m2 0h1m-16 1h2m1 0h3m1 0h2m2 0h1m1 0h2m-17 1h2m1 0h3m1 0h4m1 0h2m1 0h2m-14 1h8m1 0h4m-16 1h1m1 0h2m3 0h4m1 0h3m-15 1h2m1 0h1m2 0h1m2 0h3m2 0h2m-15 1h2m1 0h4m1 0h1m5 0h1m-14 1h4m1 0h6m2 0h1m-16 1h1m2 0h1m1 0h2m4 0h3m-14 1h3m1 0h6m1 0h4m-15 1h4m2 0h1m2 0h1m1 0h3m-14 1h2m1 0h5m1 0h5m-10 1h1m2 0h1m1 0h4m-13 1h1m2 0h1m1 0h5m1 0h1m-10 1h1m1 0h2m1 0h4m-11 1h3m1 0h7" stroke="#ec461e" stroke-width="1" fill="none"/><path d="M411 624.5h1m-13 1h1m1 0h1m1 0h1m4 0h1m1 0h1m-10 1h2m4 0h3m-13 1h1m1 0h2m8 0h1m1 0h1m-8 1h1m-2 1h3m2 0h1m1 0h1m1 0h2m-8 1h1m-10 1h1m2 0h1m2 0h2m3 0h1m2 0h2m-14 1h1m2 0h1m9 0h1m-16 1h2m2 0h1m3 0h1m2 0h2m1 0h1m-4 1h1m2 0h1m-15 1h3m8 0h1m-11 1h1m2 0h3m4 0h1m3 0h1m-14 1h1m1 0h2m1 0h2m3 0h2m-14 1h1m2 0h1m6 0h4m-14 1h2m4 0h1m6 0h2m-14 1h2m4 0h2m1 0h1m-8 1h1m6 0h1m-7 1h2m1 0h2m1 0h1m-3 1h1m-9 1h4m2 0h1m1 0h1m-8 1h2m1 0h1m5 0h1m-11 1h2m1 0h1m2 0h1m-4 1h1" stroke="#f2701f" stroke-width="1" fill="none"/></g>
<g filter="url(#bl)"><path d="M62 783.5h1m-7 1h1m-7 5h1m-3 2h1m-3 2h1m-3 2h1m-2 1h1m10 0h1m-2 1h1m-3 2h1m-13 1h1m10 1h1m-15 2h1m-3 2h1m-4 2h1m13 1h1m-2 1h1" stroke="#d8261e" stroke-width="1" fill="none"/><path d="M58 783.5h3m-4 1h6m-7 1h6m-7 1h7m-7 1h1m1 0h4m-9 1h1m1 0h6m-9 1h8m-9 1h6m1 0h2m-10 1h5m2 0h1m-10 1h1m1 0h4m1 0h1m1 0h1m-10 1h5m1 0h1m1 0h1m-10 1h2m1 0h1m1 0h5m-11 1h2m2 0h5m-10 1h5m2 0h1m1 0h1m-10 1h1m1 0h6m-9 1h2m2 0h2m1 0h3m-11 1h1m1 0h1m2 0h4m-11 1h3m4 0h4m-12 1h4m3 0h4m-12 1h2m6 0h3m-11 1h2m7 0h2m-13 1h1m1 0h1m5 0h1m2 0h1m-12 1h2m6 0h1m1 0h1m-12 1h2m6 0h4m-15 1h1m1 0h1m9 0h2m-14 1h2m7 0h4m-5 1h3m-3 1h4m-4 1h3m-1 1h1m-4 1h2m1 0h1m-4 1h4m-4 1h1m-1 1h1m1 0h1" stroke="#e4281d" stroke-width="1" fill="none"/><path d="M45 798.5h2m-1 1h1m-4 1h4m-3 1h1m-5 1h3m2 0h1m-2 1h1m-6 1h1m-2 1h1m-2 1h1m4 0h1m-8 1h1m5 0h1m-8 1h1m5 0h1m-10 1h3m5 1h1m-1 1h1m-2 3h1m-1 1h1m-1 1h1" stroke="#ec461e" stroke-width="1" fill="none"/><path d="M45 799.5h1m-3 2h1m1 0h1m-3 1h2m-5 1h2m1 0h1m-1 1h1m-1 1h1m-8 2h1m3 0h1m-6 1h2m-3 1h1m-4 1h3m-3 1h2m5 0h1m-8 1h2m5 0h1m-8 1h1m6 0h1m-2 1h1m-1 1h1m-1 1h1" stroke="#f2701f" stroke-width="1" fill="none"/><path d="M42 803.5h1m-3 1h3m-4 1h1m2 0h1m-5 1h4m-5 1h2m-2 1h1m1 0h1m-5 1h1m2 0h2m-3 1h2m-6 1h1m-1 1h1m3 0h1m-6 1h1m4 0h1m-7 1h2m2 0h2" stroke="#f59a25" stroke-width="1" fill="none"/><path d="M40 805.5h2m-3 2h1m-2 1h1m-3 1h2m-4 1h3m-3 1h4m-4 1h3m-4 1h4m-4 1h2m-4 1h6m-6 1h6" stroke="#f4c62d" stroke-width="1" fill="none"/><rect x="92" y="744" width="1" height="1" fill="#b04848"/><rect x="57" y="783" width="1" height="1" fill="#b04848"/><rect x="59" y="783" width="1" height="1" fill="#b04848"/><rect x="61" y="784" width="1" height="1" fill="#b04848"/><rect x="59" y="784" width="1" height="1" fill="#b04848"/></g>
<g filter="url(#bl)"><path d="M157 754.5h1m-1 1h2m4 0h1m8 0h1m-8 1h1m2 0h1m-12 1h1m6 0h1m1 0h2m16 0h1m-26 1h1m8 0h1m15 0h1m7 0h1m2 0h1m-41 1h1m2 0h1m3 0h2m8 0h1m3 0h1m7 0h1m2 0h1m-17 1h1m-18 1h1m3 0h1m1 0h1m29 0h1m6 0h1m-30 1h1m1 0h1m7 0h2m14 0h1m3 0h1m-41 1h1m17 0h1m2 0h1m14 0h1m-18 1h1m2 0h1m12 0h1m-17 1h1m14 0h1m-2 1h1m4 0h1m-38 1h1m13 1h1m19 1h1m-17 1h1m16 0h1m-21 5h1m-21 2h1m12 0h1m20 1h1m-3 3h1m0 1h1m-6 7h1m-2 1h1m-14 16h1m0 1h1" stroke="#d8261e" stroke-width="1" fill="none"/><path d="M161 755.5h1m-8 1h2m3 0h2m2 0h1m1 1h1m2 0h1m6 0h1m-22 1h1m2 0h1m6 0h1m1 0h1m4 0h1m7 0h3m-25 1h1m10 0h1m1 0h1m4 0h1m2 0h1m13 0h1m-35 1h1m14 0h1m9 0h1m5 0h1m2 0h1m-38 1h1m13 0h1m3 0h1m11 0h1m7 0h1m2 0h1m-43 1h2m2 0h1m1 0h2m4 0h1m4 0h1m1 0h1m13 0h1m1 0h1m-36 1h1m1 0h1m9 0h1m1 0h1m3 0h1m5 0h1m8 0h1m9 0h1m-42 1h1m1 0h3m1 0h2m2 0h1m3 0h1m1 0h2m9 0h1m-29 1h3m2 0h1m2 0h1m2 0h1m1 0h1m3 0h1m7 0h1m3 0h1m9 0h1m1 0h1m-43 1h1m2 0h2m1 0h1m1 0h1m1 0h1m2 0h1m1 0h2m1 0h1m1 0h2m1 0h1m2 0h1m1 0h3m-30 1h2m5 0h3m2 0h5m4 0h1m2 0h1m1 0h1m1 0h1m2 0h1m-31 1h2m2 0h1m3 0h2m2 0h2m4 0h1m1 0h1m5 0h3m1 0h4m-34 1h2m2 0h1m1 0h2m1 0h1m1 0h1m2 0h1m1 0h1m1 0h1m1 0h1m2 0h1m1 0h1m1 0h1m2 0h2m-33 1h1m4 0h4m1 0h1m1 0h2m1 0h1m1 0h1m2 0h1m3 0h3m1 0h3m2 0h1m1 0h1m-37 1h2m1 0h1m6 0h1m1 0h5m2 0h1m3 0h5m1 0h2m1 0h1m5 0h1m-39 1h1m2 0h1m3 0h2m1 0h1m1 0h3m2 0h1m1 0h3m1 0h1m1 0h2m1 0h2m1 0h1m2 0h2m-36 1h4m5 0h6m2 0h2m1 0h1m1 0h1m1 0h2m1 0h5m1 0h2m-34 1h3m3 0h1m1 0h1m1 0h2m1 0h3m1 0h1m1 0h1m1 0h2m3 0h4m1 0h1m2 0h1m1 0h1m-38 1h1m1 0h3m3 0h1m1 0h1m1 0h3m1 0h1m1 0h2m1 0h3m1 0h2m1 0h1m1 0h1m2 0h1m-33 1h3m2 0h3m3 0h1m2 0h1m5 0h3m1 0h2m2 0h1m2 0h1m1 0h1m-34 1h2m2 0h3m1 0h1m1 0h1m5 0h1m5 0h5m2 0h3m-27 1h1m2 0h3m2 0h1m1 0h5m1 0h5m3 0h1m1 0h1m2 0h1m-36 1h7m1 0h1m2 0h4m1 0h3m3 0h5m2 0h4m-33 1h4m1 0h2m1 0h3m1 0h2m1 0h7m1 0h6m-29 1h2m1 0h6m2 0h6m2 0h4m1 0h7m-30 1h2m1 0h3m2 0h1m1 0h7m1 0h1m2 0h1m2 0h6m-31 1h4m1 0h2m1 0h1m1 0h2m2 0h14m1 0h1m-29 1h1m1 0h3m1 0h8m1 0h7m1 0h1m1 0h4m-30 1h3m1 0h2m1 0h5m1 0h1m1 0h3m1 0h4m1 0h4m1 0h1m-30 1h2m1 0h1m1 0h2m2 0h1m1 0h5m2 0h10m-28 1h9m1 0h4m1 0h2m1 0h5m2 0h4m-29 1h5m1 0h2m1 0h2m1 0h3m1 0h4m1 0h4m1 0h2m-28 1h16m1 0h1m2 0h2m1 0h4m-27 1h7m1 0h6m7 0h1m1 0h3m-26 1h3m1 0h5m13 0h3m1 0h1m-27 1h5m3 0h1m12 0h2m-23 1h3m4 0h1m6 0h1m5 0h3m-23 1h1m18 0h3m-16 1h1m11 0h5m-5 1h3m-4 1h2m1 0h1m-18 1h1m12 0h3m-3 1h1m1 0h1m-5 1h1m1 0h3m-4 1h2m-3 1h2m-3 1h2m-2 1h2m-4 1h4m-6 2h1m1 0h2m-3 1h2m-3 1h3m-4 1h3m-3 1h3m-2 1h1m-2 1h1m-1 1h1m-2 1h3m-3 1h1m1 0h1" stroke="#e4281d" stroke-width="1" fill="none"/><path d="M174 788.5h1m-5 1h1m1 0h2m-5 1h6m1 0h1m-12 1h6m1 0h1m1 0h2m-16 1h2m1 0h4m1 0h1m1 0h4m-16 1h3m1 0h1m1 0h1m1 0h2m1 0h5m-19 1h3m1 0h3m1 0h1m4 0h3m1 0h1m-19 1h2m1 0h3m3 0h3m1 0h3m1 0h1m-17 1h1m1 0h7m6 0h2m-16 1h2m1 0h2m2 0h1m2 0h1m1 0h2m-16 1h3m8 0h2m2 0h1m-16 1h7m3 0h1m3 0h2m-16 1h1m1 0h1m3 0h1m6 0h1m1 0h1m-16 1h4m1 0h1m6 0h3m-15 1h1m11 0h2m-12 1h1m8 0h2m-13 1h1m9 0h2m-2 1h1m-10 1h1m8 0h1m-1 1h1m-3 1h2m-3 2h1m-2 1h2m-1 1h2m-4 1h3m-3 1h3m-2 1h1m-1 1h1" stroke="#ec461e" stroke-width="1" fill="none"/><path d="M173 791.5h1m-7 1h1m1 0h1m-5 1h1m-8 1h1m3 0h1m1 0h1m1 0h2m3 0h1m-16 1h1m5 0h1m3 0h1m3 0h1m-17 1h1m1 0h1m7 0h6m-16 1h2m5 0h1m2 0h2m1 0h1m-10 1h7m3 0h1m-8 1h3m1 0h3m-13 1h1m1 0h3m1 0h1m1 0h4m-9 1h1m1 0h2m3 0h1m-11 1h1m1 0h3m5 0h1m-12 1h2m1 0h3m4 0h1m-9 1h3m-5 1h4m4 0h2m-10 1h1m1 0h1m5 0h2m-10 1h3m5 0h1m-9 1h2m5 0h1m-8 1h2m4 0h2m-3 1h2m-2 1h1m-1 1h2m-7 2h1m3 0h1m-5 1h1m1 0h4m-6 1h6" stroke="#f2701f" stroke-width="1" fill="none"/><path d="M167 798.5h1m-6 2h1m-1 1h3m-9 1h1m3 0h2m1 0h2m-5 1h4m-9 1h1m3 0h2m1 0h2m-6 1h2m-3 1h2m2 0h1m-5 1h1m1 0h3m-6 1h1m3 0h1m-5 1h1m1 0h2m-6 1h3m-3 1h1m1 0h1m1 0h1m-1 1h1m-3 1h3m-4 1h3m-3 1h1" stroke="#f59a25" stroke-width="1" fill="none"/><path d="M162 802.5h1m-2 2h1m-2 1h2m-3 1h2m-3 1h1m-2 1h3m-3 1h1m-1 1h2m-4 1h1m1 0h1m-4 1h4m-4 1h2" stroke="#f4c62d" stroke-width="1" fill="none"/><rect x="188" y="723" width="1" height="1" fill="#b04848"/><rect x="181" y="747" width="1" height="1" fill="#b04848"/><rect x="199" y="748" width="1" height="1" fill="#b04848"/><rect x="209" y="750" width="1" height="1" fill="#b04848"/><rect x="217" y="749" width="1" height="1" fill="#b04848"/><rect x="221" y="744" width="1" height="1" fill="#b04848"/></g>
<g filter="url(#bl)"><path d="M294 747.5h1m5 0h1m-14 1h1m4 0h2m-10 1h1m8 0h1m1 0h1m7 0h2m-14 1h1m6 0h1m1 0h1m-13 1h1m8 0h1m4 0h1m-20 1h1m1 0h1m1 0h1m11 0h1m4 0h1m-25 1h1m25 0h4m-29 1h1m1 0h1m15 0h2m-21 1h1m7 0h1m10 0h1m-18 1h1m2 0h1m8 0h1m2 0h1m-8 1h1m12 0h1m1 0h1m-18 1h1m14 0h1m7 0h1m-13 1h1m2 0h1m1 0h1m-15 1h1m11 0h3m5 0h1m-12 1h1m12 0h1m-2 1h1m-12 1h1m1 0h1m3 0h1m-4 3h1m5 0h1m-7 2h1m4 0h1m-5 1h1m0 1h1m-11 2h1m8 1h1m-20 1h1m11 1h1m7 0h1m-1 1h1m-1 6h1m-2 1h1m-6 9h1m-2 4h1m-3 1h1m-2 1h1m-1 2h1m1 0h1m-4 1h2m-4 5h1m-3 1h1m-2 1h1" stroke="#d8261e" stroke-width="1" fill="none"/><path d="M295 748.5h2m-7 1h2m6 0h1m1 0h1m-19 1h1m2 0h1m6 0h1m13 0h1m-22 1h1m1 0h1m18 0h1m-15 1h1m3 0h1m5 0h1m4 0h1m-26 1h1m1 0h1m1 0h1m6 0h2m-18 1h1m16 0h1m14 0h1m-33 1h1m3 0h1m10 0h1m4 0h1m-20 1h1m1 0h1m8 0h1m5 0h1m3 0h1m1 0h3m1 0h1m4 0h1m-35 1h3m3 0h4m11 0h2m5 0h1m3 0h1m-32 1h1m1 0h1m2 0h1m1 0h1m19 0h1m5 0h1m-34 1h3m1 0h3m2 0h3m2 0h3m2 0h1m-21 1h1m3 0h1m2 0h1m1 0h5m2 0h1m13 0h1m1 0h1m-32 1h3m3 0h1m3 0h1m1 0h1m1 0h2m3 0h1m11 0h1m-32 1h1m1 0h2m3 0h3m1 0h4m1 0h1m12 0h1m3 0h1m-34 1h2m1 0h6m1 0h2m1 0h2m1 0h2m2 0h1m-22 1h1m1 0h3m4 0h1m2 0h1m1 0h2m3 0h1m3 0h1m4 0h1m-29 1h4m1 0h2m1 0h1m1 0h2m3 0h2m14 0h1m-30 1h2m2 0h4m1 0h1m1 0h3m2 0h2m1 0h3m1 0h1m-26 1h1m1 0h3m1 0h2m2 0h2m1 0h2m1 0h1m1 0h1m1 0h3m7 0h1m-30 1h1m1 0h4m2 0h1m3 0h2m3 0h2m3 0h1m2 0h1m-24 1h4m2 0h1m1 0h1m1 0h1m3 0h1m2 0h3m1 0h1m1 0h1m-27 1h1m2 0h1m2 0h3m1 0h1m2 0h1m1 0h1m1 0h1m2 0h1m1 0h1m1 0h3m3 0h1m-27 1h1m2 0h2m1 0h3m1 0h1m1 0h5m1 0h3m1 0h1m1 0h1m-25 1h2m1 0h1m2 0h1m1 0h1m2 0h2m1 0h1m1 0h1m1 0h3m1 0h2m1 0h1m-29 1h3m2 0h3m2 0h1m1 0h1m1 0h2m2 0h4m1 0h2m-25 1h1m1 0h1m1 0h2m1 0h1m2 0h2m3 0h1m5 0h1m1 0h2m-26 1h1m1 0h4m1 0h4m3 0h1m1 0h4m2 0h2m1 0h1m-26 1h6m1 0h2m1 0h1m1 0h1m1 0h1m1 0h1m4 0h5m1 0h1m-28 1h2m2 0h1m1 0h2m3 0h6m2 0h1m1 0h4m-25 1h4m3 0h2m1 0h5m3 0h1m2 0h2m3 0h2m-28 1h2m1 0h12m1 0h1m3 0h4m3 0h1m-28 1h5m1 0h6m2 0h2m1 0h2m1 0h2m1 0h5m-28 1h2m1 0h11m5 0h5m2 0h1m1 0h1m-29 1h5m1 0h8m2 0h2m1 0h1m1 0h1m3 0h1m1 0h1m-28 1h6m1 0h1m1 0h1m1 0h8m1 0h1m1 0h1m1 0h1m1 0h2m-28 1h10m1 0h5m2 0h2m1 0h1m-22 1h1m1 0h4m1 0h4m1 0h1m1 0h1m1 0h3m1 0h4m-24 1h8m1 0h12m1 0h1m-23 1h1m1 0h10m1 0h6m1 0h1m4 0h1m-26 1h9m1 0h1m1 0h7m1 0h4m-23 1h1m1 0h2m1 0h2m1 0h3m1 0h3m1 0h4m1 0h2m-24 1h6m1 0h4m1 0h12m-24 1h3m1 0h5m1 0h8m1 0h4m1 0h1m-25 1h1m1 0h8m2 0h2m1 0h6m1 0h1m-23 1h3m1 0h1m1 0h1m2 0h5m1 0h5m2 0h1m-22 1h1m6 0h1m3 0h3m1 0h5m1 0h1m-8 1h1m1 0h2m1 0h1m-4 1h3m-12 1h1m7 0h4m1 0h1m-7 1h4m-5 1h3m1 0h1m-4 1h1m1 0h1m-4 1h1m1 0h1m-7 1h2m2 0h2m-3 1h2m-3 1h2m-2 1h2m-3 1h2m-2 1h2m-3 1h2m-3 1h3m-2 1h1m-2 1h1m-1 1h2m-2 1h1m-2 1h2m-2 1h2m-2 1h1" stroke="#e4281d" stroke-width="1" fill="none"/><path d="M279 793.5h1m3 0h2m-9 1h1m1 0h4m1 0h1m1 0h3m-11 1h7m2 0h5m-14 1h3m3 0h5m1 0h1m1 0h2m-17 1h3m1 0h2m1 0h1m4 0h1m1 0h2m-16 1h2m1 0h3m1 0h8m-13 1h3m2 0h1m1 0h2m1 0h2m-12 1h1m3 0h3m1 0h1m1 0h3m-9 1h2m1 0h2m2 0h1m-6 1h1m4 0h1m-7 1h1m4 0h1m-8 1h1m3 0h3m-4 1h4m-5 1h4m-3 1h3m-5 1h4m-3 2h1m0 1h1m-2 1h2m-2 1h2m-3 1h2m-2 1h2m-2 1h2" stroke="#ec461e" stroke-width="1" fill="none"/><path d="M282 794.5h1m-7 1h1m7 0h2m-10 1h1m3 0h3m5 0h1m-10 1h1m5 0h3m1 0h1m-12 1h1m3 0h1m-7 1h2m3 0h2m1 0h1m2 0h1m-12 1h2m1 0h3m3 0h1m1 0h1m-12 1h5m3 0h1m2 0h2m-13 1h2m1 0h5m1 0h1m2 0h1m-13 1h7m1 0h4m-12 1h5m1 0h3m-9 1h1m2 0h5m-3 1h1m-1 1h3m-3 2h3m-2 1h1m-2 1h3m-3 1h2m-2 1h2m-3 1h2m-2 1h2m-2 1h2" stroke="#f2701f" stroke-width="1" fill="none"/><path d="M281 801.5h1m-4 1h1m-2 3h2m0 1h2m1 0h1m-4 1h2m-1 1h2m-6 1h1m3 1h2m-2 1h1m-1 1h1m-2 1h2m-3 1h1m-1 1h2m-3 1h1m1 0h1" stroke="#f59a25" stroke-width="1" fill="none"/><path d="M276 806.5h3m-3 1h3m-3 1h4m-3 1h4m-5 1h4m-4 1h4m-4 1h4m-4 1h3m-3 1h2m1 0h1m-4 1h2m-2 1h1m1 0h1" stroke="#f4c62d" stroke-width="1" fill="none"/></g>
<g filter="url(#bl)"><path d="M408 751.5h1m-4 1h1m5 0h1m1 0h1m-8 1h3m-12 1h1m5 0h1m8 0h1m2 0h1m4 0h1m-9 1h1m2 0h1m-19 1h1m9 0h1m7 0h2m1 0h1m3 0h1m-24 1h1m15 0h2m3 0h1m3 0h1m-9 1h1m2 1h1m4 0h1m2 0h2m-12 1h1m10 0h1m-12 1h1m3 0h1m1 0h2m-11 1h2m7 0h1m-2 1h1m2 0h1m4 0h1m-10 1h1m7 0h1m-5 1h1m4 0h1m-2 2h1m-2 1h1m3 0h1m-5 1h1m1 0h1m-2 3h1m-27 2h1m23 0h1m1 1h1m-1 1h1m-4 3h1m1 0h1m-1 2h1m-11 1h1m7 3h1m-4 4h1m-2 1h1m-2 3h1m-2 1h1m-4 1h1m-3 6h1m-2 1h1m-1 1h1m-4 3h1m-1 1h1m-2 2h1m-4 5h1" stroke="#d8261e" stroke-width="1" fill="none"/><path d="M403 753.5h2m1 2h1m10 0h1m-16 1h2m4 0h1m5 0h1m7 1h1m-26 1h1m2 0h2m3 0h1m2 0h1m12 0h1m-21 1h1m6 0h1m1 0h1m11 0h1m-25 1h1m2 0h2m2 0h3m15 0h1m-27 1h6m1 0h1m3 0h5m1 0h1m5 0h1m4 0h1m-29 1h2m1 0h3m1 0h1m4 0h1m1 0h1m-12 1h1m1 0h1m3 0h1m2 0h1m2 0h2m3 0h1m-19 1h6m2 0h1m1 0h2m3 0h4m-21 1h3m3 0h2m1 0h1m2 0h2m1 0h3m1 0h1m1 0h1m4 0h1m7 0h1m-33 1h2m5 0h6m1 0h1m2 0h1m4 0h1m-25 1h1m5 0h1m1 0h1m1 0h2m2 0h1m3 0h2m1 0h2m2 0h1m8 0h1m-35 1h1m2 0h5m8 0h4m1 0h1m2 0h2m1 0h2m4 0h1m-31 1h2m4 0h1m2 0h1m1 0h2m1 0h5m2 0h2m1 0h2m3 0h1m-25 1h1m3 0h1m2 0h1m4 0h3m4 0h1m1 0h1m-30 1h2m5 0h1m2 0h4m1 0h1m2 0h1m1 0h1m3 0h1m1 0h3m1 0h1m-30 1h1m1 0h4m5 0h4m1 0h1m1 0h1m1 0h1m2 0h1m1 0h1m2 0h1m1 0h1m-30 1h2m3 0h3m4 0h3m1 0h1m3 0h2m1 0h4m1 0h2m-32 1h2m1 0h2m2 0h1m1 0h3m2 0h2m3 0h3m1 0h1m1 0h1m3 0h1m-30 1h2m1 0h1m1 0h1m1 0h3m2 0h2m2 0h1m1 0h1m6 0h6m-31 1h2m1 0h2m2 0h1m1 0h1m1 0h1m3 0h1m3 0h1m1 0h2m4 0h2m-29 1h2m1 0h1m1 0h2m3 0h1m3 0h2m4 0h3m4 0h1m-28 1h1m1 0h1m5 0h1m2 0h2m7 0h1m1 0h2m4 0h1m-29 1h3m1 0h1m1 0h5m2 0h3m1 0h4m1 0h1m1 0h1m2 0h1m-28 1h4m5 0h3m2 0h3m1 0h1m3 0h1m2 0h1m2 0h1m-28 1h6m1 0h6m2 0h3m2 0h1m4 0h1m2 0h1m-30 1h3m3 0h4m1 0h1m5 0h2m4 0h2m1 0h1m1 0h1m-29 1h3m2 0h1m3 0h3m1 0h2m2 0h1m1 0h3m1 0h2m1 0h3m-29 1h2m1 0h2m3 0h1m1 0h6m1 0h2m4 0h1m1 0h1m2 0h1m-29 1h4m1 0h1m1 0h1m1 0h3m1 0h1m1 0h4m1 0h5m-25 1h9m1 0h4m1 0h3m1 0h2m1 0h2m1 0h1m-26 1h1m1 0h4m1 0h1m1 0h2m1 0h6m1 0h1m1 0h3m-24 1h3m1 0h3m1 0h17m-25 1h6m1 0h2m1 0h14m-24 1h3m1 0h18m1 0h1m-16 1h2m1 0h2m1 0h1m1 0h3m1 0h4m-16 1h15m-12 1h11m-10 1h1m1 0h2m2 0h2m-4 1h3m-4 1h5m-3 1h1m-2 1h1m3 0h1m-6 1h3m-10 1h1m5 0h4m-3 1h1m-2 1h3m-3 1h2m-4 1h4m-5 1h3m-3 1h2m-3 1h4m-3 1h1m-2 1h2m-3 1h3m-2 1h1m-2 2h1m-1 1h1m-1 1h1m-2 1h2" stroke="#e4281d" stroke-width="1" fill="none"/><path d="M397 791.5h7m-7 1h2m1 0h1m2 0h2m-8 1h1m2 0h1m1 0h3m1 0h2m-11 1h1m1 0h3m1 0h1m3 0h2m1 0h1m-14 1h2m2 0h5m2 0h1m1 0h3m-16 1h1m1 0h3m2 0h2m1 0h1m2 0h2m-14 1h2m1 0h5m1 0h1m1 0h2m1 0h2m-17 1h2m2 0h2m1 0h1m1 0h1m2 0h4m-16 1h1m1 0h2m3 0h1m1 0h1m1 0h2m1 0h1m-10 1h3m3 0h3m-8 1h4m1 0h1m1 0h2m-15 1h2m6 0h1m1 0h1m1 0h2m-3 1h3m-5 1h3m-7 1h1m2 0h3m-3 1h3m-4 1h2m-1 1h2m-3 1h3m-2 1h1m-2 1h3m-3 1h3m-4 1h3m-3 1h3m-1 1h1m-3 1h2" stroke="#ec461e" stroke-width="1" fill="none"/><path d="M399 792.5h1m1 0h2m-5 1h2m1 0h1m3 0h1m-8 1h1m3 0h1m1 0h1m1 0h1m-8 1h2m5 0h2m1 0h1m-12 1h1m3 0h2m2 0h1m1 0h2m-13 1h1m2 0h1m5 0h1m4 0h1m-13 1h2m4 0h1m1 0h2m-11 1h1m2 0h3m1 0h1m1 0h1m2 0h1m-14 1h5m4 0h2m-11 1h5m5 0h1m1 0h1m-11 1h6m1 0h1m1 0h1m-12 1h11m-11 1h9m-9 1h2m1 0h2m1 0h2m-3 1h3m-3 1h2m2 0h1m-5 1h3m-3 1h2m-1 1h2m-3 1h2m-2 1h2m-2 1h1m-2 1h2m-2 1h3m-3 1h2" stroke="#f2701f" stroke-width="1" fill="none"/><path d="M402 801.5h1m-4 4h1m-3 1h1m1 0h3m-3 1h3m-1 1h1m-2 1h1m1 1h1m-2 1h1m-4 1h1m1 0h1m0 1h1m-2 2h1m-1 1h1" stroke="#f59a25" stroke-width="1" fill="none"/><path d="M398 806.5h1m-2 1h2m-2 1h4m-4 1h3m1 0h1m-5 1h5m-5 1h4m-4 1h1m1 0h1m1 0h1m-5 1h4m-4 1h4m-4 1h3m-3 1h3" stroke="#f4c62d" stroke-width="1" fill="none"/><rect x="424" y="742" width="1" height="1" fill="#b04848"/><rect x="439" y="747" width="1" height="1" fill="#b04848"/><rect x="448" y="761" width="1" height="1" fill="#b04848"/></g>
<text x="32" y="157.5" style="font-family:'Liberation Sans',sans-serif;font-weight:bold;font-size:16px" fill="#111">FL1-H</text>
<line x1="83.6" y1="153.1" x2="516.2" y2="153.1" stroke="#3a3a3a" stroke-width="1.25" marker-end="url(#ah)"/>
<text x="33.3" y="328.8" style="font-family:'Liberation Sans',sans-serif;font-weight:bold;font-size:16px" fill="#111">CD41</text>
<line x1="80.2" y1="325.5" x2="512.8" y2="325.5" stroke="#3a3a3a" stroke-width="1.25" marker-end="url(#ah)"/>
<text x="33.3" y="497.3" style="font-family:'Liberation Sans',sans-serif;font-weight:bold;font-size:16px" fill="#111">CD41</text>
<line x1="82.5" y1="493.5" x2="514.8" y2="493.5" stroke="#3a3a3a" stroke-width="1.25" marker-end="url(#ah)"/>
<text x="32" y="661.8" style="font-family:'Liberation Sans',sans-serif;font-weight:bold;font-size:16px" fill="#111">FL1-H</text>
<line x1="83.6" y1="656.9" x2="516.5" y2="656.9" stroke="#3a3a3a" stroke-width="1.25" marker-end="url(#ah)"/>
<text x="32" y="837.8" style="font-family:'Liberation Sans',sans-serif;font-weight:bold;font-size:16px" fill="#111">FL1-H</text>
<line x1="84" y1="833.9" x2="512.3" y2="833.9" stroke="#3a3a3a" stroke-width="1.25" marker-end="url(#ah)"/>
<line x1="15" y1="104.3" x2="15" y2="38.1" stroke="#3a3a3a" stroke-width="1.25" marker-end="url(#av)"/>
<text transform="translate(19,142.5) rotate(-90) scale(0.955,1)" style="font-family:'Liberation Sans',sans-serif;font-weight:bold;font-size:16px" fill="#111">Flk1</text>
<line x1="15" y1="263.6" x2="15" y2="206.2" stroke="#3a3a3a" stroke-width="1.25" marker-end="url(#av)"/>
<text transform="translate(19,310) rotate(-90) scale(1.0,1)" style="font-family:'Liberation Sans',sans-serif;font-weight:bold;font-size:16px" fill="#111">FL2-H</text>
<line x1="15" y1="434.6" x2="15" y2="370" stroke="#3a3a3a" stroke-width="1.25" marker-end="url(#av)"/>
<text transform="translate(19,478.8) rotate(-90) scale(1.0,1)" style="font-family:'Liberation Sans',sans-serif;font-weight:bold;font-size:16px" fill="#111">C-Kit</text>
<line x1="15" y1="601.5" x2="15" y2="541.5" stroke="#3a3a3a" stroke-width="1.25" marker-end="url(#av)"/>
<text transform="translate(19,648) rotate(-90) scale(1.0,1)" style="font-family:'Liberation Sans',sans-serif;font-weight:bold;font-size:16px" fill="#111">CD45</text>
<line x1="15" y1="774.5" x2="15" y2="708.6" stroke="#3a3a3a" stroke-width="1.25" marker-end="url(#av)"/>
<text transform="translate(19,817.3) rotate(-90) scale(0.975,1)" style="font-family:'Liberation Sans',sans-serif;font-weight:bold;font-size:16px" fill="#111">CD31</text>
<text x="32.7" y="43.3" text-anchor="start" style="font-family:'Liberation Sans',sans-serif;font-size:16px" fill="#1a1a1a">0.2%</text>
<text x="157.3" y="43.3" text-anchor="start" style="font-family:'Liberation Sans',sans-serif;font-size:16px" fill="#1a1a1a">29.8<tspan dx="2.6">±</tspan><tspan dx="2.6">1.5%</tspan></text>
<text x="276.6" y="43.3" text-anchor="start" style="font-family:'Liberation Sans',sans-serif;font-size:16px" fill="#1a1a1a">50.5<tspan dx="2.6">±</tspan><tspan dx="2.6">1.5%</tspan></text>
<text x="399.8" y="43.3" text-anchor="start" style="font-family:'Liberation Sans',sans-serif;font-size:16px" fill="#1a1a1a">45.5<tspan dx="2.6">±</tspan><tspan dx="2.6">2.5%</tspan></text>
<text x="146.6" y="310.5" text-anchor="end" style="font-family:'Liberation Sans',sans-serif;font-size:16px" fill="#1a1a1a">0%</text>
<text x="271.5" y="310.5" text-anchor="end" style="font-family:'Liberation Sans',sans-serif;font-size:16px" fill="#1a1a1a">2.6<tspan dx="2.6">±</tspan><tspan dx="2.6">0.8%</tspan></text>
<text x="393.6" y="310.5" text-anchor="end" style="font-family:'Liberation Sans',sans-serif;font-size:16px" fill="#1a1a1a">23<tspan dx="2.6">±</tspan><tspan dx="2.6">2.7%</tspan></text>
<text x="516.6" y="310.5" text-anchor="end" style="font-family:'Liberation Sans',sans-serif;font-size:16px" fill="#1a1a1a">15.6<tspan dx="2.6">±</tspan><tspan dx="2.6">1.8%</tspan></text>
<text x="148.4" y="379.2" text-anchor="end" style="font-family:'Liberation Sans',sans-serif;font-size:16px" fill="#1a1a1a">0.5%</text>
<text x="269.7" y="379.2" text-anchor="end" style="font-family:'Liberation Sans',sans-serif;font-size:16px" fill="#1a1a1a">3.3<tspan dx="2.6">±</tspan><tspan dx="2.6">1.2%</tspan></text>
<text x="391.5" y="379.2" text-anchor="end" style="font-family:'Liberation Sans',sans-serif;font-size:16px" fill="#1a1a1a">12.6<tspan dx="2.6">±</tspan><tspan dx="2.6">1.3%</tspan></text>
<text x="507.3" y="379.2" text-anchor="end" style="font-family:'Liberation Sans',sans-serif;font-size:16px" fill="#1a1a1a">10.5<tspan dx="2.6">±</tspan><tspan dx="2.6">1.1%</tspan></text>
<text x="37.5" y="547.8" text-anchor="start" style="font-family:'Liberation Sans',sans-serif;font-size:16px" fill="#1a1a1a">0.3%</text>
<text x="156.7" y="547.8" text-anchor="start" style="font-family:'Liberation Sans',sans-serif;font-size:16px" fill="#1a1a1a">2.1<tspan dx="2.6">±</tspan><tspan dx="2.6">0.3%</tspan></text>
<text x="280.5" y="547.8" text-anchor="start" style="font-family:'Liberation Sans',sans-serif;font-size:16px" fill="#1a1a1a">9.0<tspan dx="2.6">±</tspan><tspan dx="2.6">1.1%</tspan></text>
<text x="400.3" y="547.8" text-anchor="start" style="font-family:'Liberation Sans',sans-serif;font-size:16px" fill="#1a1a1a">10<tspan dx="2.6">±</tspan><tspan dx="2.6">2.2%</tspan></text>
<text x="40.0" y="716" text-anchor="start" style="font-family:'Liberation Sans',sans-serif;font-size:16px" fill="#1a1a1a">0%</text>
<text x="159.2" y="716" text-anchor="start" style="font-family:'Liberation Sans',sans-serif;font-size:16px" fill="#1a1a1a">28<tspan dx="2.6">±</tspan><tspan dx="2.6">2.2%</tspan></text>
<text x="278.5" y="716" text-anchor="start" style="font-family:'Liberation Sans',sans-serif;font-size:16px" fill="#1a1a1a">38.8<tspan dx="2.6">±</tspan><tspan dx="2.6">2.2%</tspan></text>
<text x="402.6" y="716" text-anchor="start" style="font-family:'Liberation Sans',sans-serif;font-size:16px" fill="#1a1a1a">37.3<tspan dx="2.6">±</tspan><tspan dx="2.6">2.5%</tspan></text>
</svg></body></html>
